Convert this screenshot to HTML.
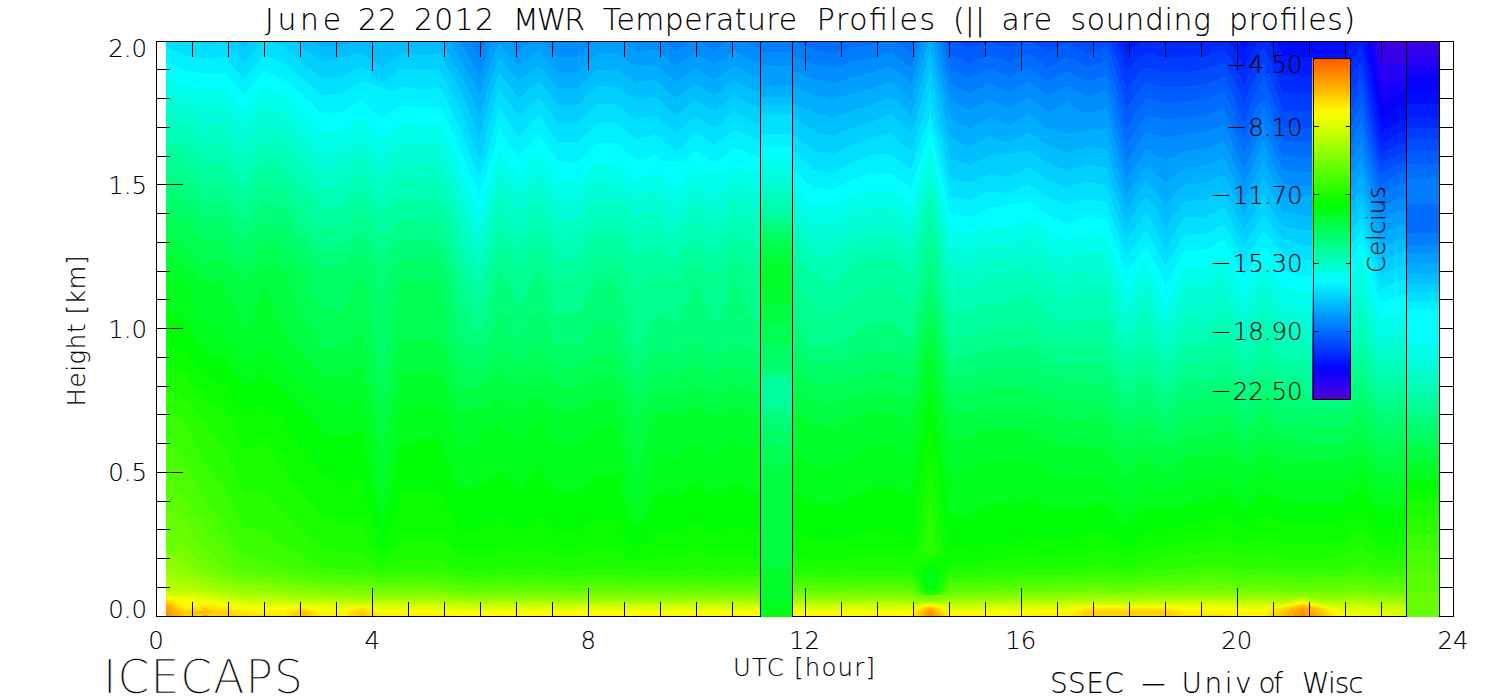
<!DOCTYPE html>
<html><head><meta charset="utf-8"><title>June 22 2012 MWR Temperature Profiles</title>
<style>
html,body{margin:0;padding:0;background:#fff;overflow:hidden;}
svg{display:block;}
text{font-family:"DejaVu Sans Light","DejaVu Sans","Liberation Sans",sans-serif;font-weight:200;fill:#000;stroke:#000;stroke-width:0.12px;}
.t{font-size:29.8px}
.a{font-size:24.4px}
.s{font-size:27.9px}
.i{font-size:45.5px;stroke:#fff;stroke-width:0.55px}
</style></head><body>
<svg xmlns="http://www.w3.org/2000/svg" width="1500" height="700" viewBox="0 0 1500 700">
<defs>
<linearGradient id="cb" x1="0" y1="1" x2="0" y2="0">
<stop offset="0.000" stop-color="#5000c8"/><stop offset="0.025" stop-color="#3c00e1"/><stop offset="0.050" stop-color="#2700f6"/><stop offset="0.075" stop-color="#0e00fc"/><stop offset="0.100" stop-color="#000bff"/><stop offset="0.125" stop-color="#0023ff"/><stop offset="0.150" stop-color="#003cff"/><stop offset="0.175" stop-color="#0054ff"/><stop offset="0.200" stop-color="#006dff"/><stop offset="0.225" stop-color="#0085ff"/><stop offset="0.250" stop-color="#009eff"/><stop offset="0.275" stop-color="#00b6ff"/><stop offset="0.300" stop-color="#00cfff"/><stop offset="0.325" stop-color="#00e7ff"/><stop offset="0.350" stop-color="#00fffe"/><stop offset="0.375" stop-color="#00ffe1"/><stop offset="0.400" stop-color="#00ffc5"/><stop offset="0.425" stop-color="#00ffa8"/><stop offset="0.450" stop-color="#00ff8c"/><stop offset="0.475" stop-color="#00ff70"/><stop offset="0.500" stop-color="#00ff53"/><stop offset="0.525" stop-color="#00ff37"/><stop offset="0.550" stop-color="#00ff1a"/><stop offset="0.575" stop-color="#02ff00"/><stop offset="0.600" stop-color="#1aff00"/><stop offset="0.625" stop-color="#32ff00"/><stop offset="0.650" stop-color="#4aff00"/><stop offset="0.675" stop-color="#61ff00"/><stop offset="0.700" stop-color="#79ff00"/><stop offset="0.725" stop-color="#91ff00"/><stop offset="0.750" stop-color="#a9ff00"/><stop offset="0.775" stop-color="#c1ff00"/><stop offset="0.800" stop-color="#d9ff00"/><stop offset="0.825" stop-color="#f1ff00"/><stop offset="0.850" stop-color="#fff400"/><stop offset="0.875" stop-color="#ffda00"/><stop offset="0.900" stop-color="#ffbf00"/><stop offset="0.925" stop-color="#ffa500"/><stop offset="0.950" stop-color="#ff8a00"/><stop offset="0.975" stop-color="#ff7000"/><stop offset="1.000" stop-color="#ff5500"/>
</linearGradient>
</defs>
<rect width="1500" height="700" fill="#fff"/>
<g shape-rendering="crispEdges" fill-rule="evenodd">
<rect x="166.0" y="41.0" width="1274.0" height="575.0" fill="#4300d9"/>
<path fill="#3500e9" d="M166,41 1380.5,41 1381.2,45 1400.8,50 1440,50 1440,616 166,616Z"/>
<path fill="#2700f6" d="M166,41 1377.2,41 1378.9,51 1380.6,61 1381.2,65 1400.8,64 1440,64 1440,616 166,616Z"/>
<path fill="#1600fa" d="M166,41 1373.9,41 1375.7,51 1377.4,61 1379,71 1380.6,81 1381.2,85 1390.7,81 1400.8,78 1440,78 1440,616 166,616Z"/>
<path fill="#0600fe" d="M166,41 1370.5,41 1372.4,51 1374.2,61 1376,71 1377.6,81 1379.2,91 1380.6,101 1381.2,104.3 1385.9,101 1400.8,92 1440,92 1440,616 166,616Z"/>
<path fill="#000bff" d="M166,41 1367.2,41 1369.2,51 1371.1,61 1372.9,71 1374.6,81 1376.2,91 1377.8,101 1379.5,111 1381.2,119.8 1393.5,111 1400.8,106 1440,106 1440,616 166,616Z"/>
<path fill="#001bff" d="M166,41 1239.1,41 1244,49.2 1248.4,41 1276.3,41 1280.9,51 1283.2,56.5 1342,56.5 1345.7,51 1353,41 1363.8,41 1365.9,51 1367.9,61 1369.8,71 1371.6,81 1373.3,91 1374.9,101 1376.6,111 1378.6,121 1381,131 1381.2,131.9 1382.8,131 1399.2,121 1400.8,119.9 1440,119.9 1440,616 166,616Z"/>
<path fill="#002bff" d="M166,41 1122.4,41 1125.7,51 1126.4,53.2 1128.8,51 1142.8,41 1155.7,41 1165.6,43 1185.2,42.3 1204.8,41.5 1206.5,41 1228.4,41 1235.3,51 1241,61 1244,67.2 1246.9,61 1252.1,51 1257.9,41 1268.3,41 1273.3,51 1277.8,61 1281.9,71 1283.2,74.5 1342,74.5 1344,71 1350.4,61 1357.6,51 1361.6,46 1362.7,51 1364.8,61 1366.7,71 1368.6,81 1370.4,91 1372,101 1373.8,111 1375.7,121 1378,131 1380.6,141 1381.2,142.9 1384.8,141 1400.8,131.9 1440,131.9 1440,616 166,616Z"/>
<path fill="#003cff" d="M166,41 1116.4,41 1120.1,51 1123.4,61 1126.4,71.2 1126.6,71 1135.7,61 1146,52.6 1165.6,57.7 1185.2,57 1204.8,55.5 1218.9,51 1224.4,49.3 1225.6,51 1232.1,61 1237.5,71 1242.2,81 1244,85.2 1245.8,81 1250.4,71 1255.5,61 1261.1,51 1263.6,47 1265.7,51 1270.5,61 1274.9,71 1279,81 1282.7,91 1283.2,92.5 1342,92.5 1342.8,91 1348.3,81 1354.6,71 1361.6,61 1363.7,71 1365.6,81 1367.5,91 1369.2,101 1370.9,111 1372.9,121 1375,131 1377.5,141 1380.5,151 1381.2,153 1385.1,151 1400.8,142.9 1440,142.9 1440,616 166,616Z"/>
<path fill="#004cff" d="M166,41 1110.4,41 1114.4,51 1118,61 1121.1,71 1124.1,81 1126.4,89.4 1132.8,81 1141.6,71 1146,66.6 1160.9,71 1165.6,72.4 1185.2,71.7 1191.8,71 1204.8,69.7 1224.4,62.8 1229.2,71 1234.4,81 1238.9,91 1243,101 1244,103.5 1244.9,101 1249,91 1253.5,81 1258.5,71 1263.6,61.7 1268,71 1272.3,81 1276.3,91 1280,101 1283.2,110.5 1342,110.5 1346.8,101 1352.2,91 1358.3,81 1361.6,76 1362.6,81 1364.5,91 1366.3,101 1368.1,111 1370,121 1372,131 1374.3,141 1377.2,151 1380.5,161 1381.2,163 1400.8,153 1440,153 1440,616 166,616Z"/>
<path fill="#005dff" d="M166,41 954,41 969.6,49.3 989.2,42 1008.8,48 1023.9,41 1031.4,41 1045.7,51 1048,52.7 1051.2,51 1067.6,42.7 1083.2,51 1087.2,53 1093.1,51 1106.8,46.3 1108.8,51 1112.6,61 1115.9,71 1119,81 1121.9,91 1124.6,101 1126.4,108.3 1131.1,101 1138.5,91 1146,82 1165.6,87.2 1185.2,86.6 1204.8,84.3 1213.7,81 1224.4,77 1226.5,81 1231.4,91 1235.8,101 1239.7,111 1243.6,121 1244,121.8 1244.4,121 1248.1,111 1251.9,101 1256.3,91 1261.2,81 1263.6,76.3 1265.7,81 1270,91 1273.9,101 1277.4,111 1280.8,121 1283.2,127.2 1302.8,127.5 1342,127.5 1345.5,121 1350.5,111 1355.8,101 1361.6,91 1363.4,101 1365.2,111 1367.1,121 1369,131 1371.2,141 1373.8,151 1376.9,161 1380.4,171 1381.2,173 1400.8,163 1440,163 1440,616 166,616Z"/>
<path fill="#006dff" d="M166,41 946.9,41 949.3,51 950,54 964.4,61 969.6,63.4 975.1,61 989.2,55.3 1004.6,61 1008.8,62.6 1012.1,61 1028.4,53 1039.6,61 1048,67.2 1059.4,61 1067.6,56.7 1076.1,61 1087.2,66.7 1103.4,61 1106.8,59.8 1107.3,61 1110.7,71 1113.9,81 1116.9,91 1119.6,101 1122.2,111 1124.6,121 1126.4,127.5 1130.5,121 1136.8,111 1143.9,101 1146,98.2 1158,101 1165.6,102.7 1185.2,102 1192.5,101 1204.8,99.4 1224.4,92 1228.5,101 1232.6,111 1236.7,121 1241.2,131 1244,137.2 1246.7,131 1251,121 1254.8,111 1258.8,101 1267.8,101 1271.4,111 1274.9,121 1278.6,131 1283,141 1283.2,141.5 1302.8,142.3 1342,142.3 1342.8,141 1348.7,131 1353.8,121 1359.2,111 1361.6,106.6 1362.4,111 1364.3,121 1366.1,131 1368.1,141 1370.5,151 1373.2,161 1376.5,171 1380.3,181 1381.2,183 1400.8,173 1440,173 1440,616 166,616Z"/>
<path fill="#007dff" d="M166,41 791.5,41 793.2,41.4 812.8,49.4 819.9,51 832.4,53.7 841,51 852,47.4 871.6,44.6 881.8,41 895.9,41 908.7,51 910.8,52.6 911.3,51 914.4,41 943.2,41 945.6,51 948,61 950,69.2 954,71 969.6,78.1 984.3,71 989.2,68.8 994.7,71 1008.8,76.9 1020.5,71 1028.4,67.1 1033.7,71 1047.6,81 1048,81.3 1048.6,81 1067.6,70.7 1068.2,71 1086,81 1087.2,81.7 1089.2,81 1106.8,75 1108.8,81 1112,91 1114.7,101 1117.3,111 1119.7,121 1122.4,131 1125.2,141 1126.4,145.2 1129,141 1135.4,131 1141.8,121 1146,114.9 1165.6,118.9 1185.2,118 1204.8,115.3 1216.8,111 1224.4,108.2 1225.6,111 1229.7,121 1234.1,131 1238.6,141 1243.3,151 1244,152.5 1244.7,151 1249.3,141 1253.6,131 1257.6,121 1261.5,111 1263.6,106 1265.5,111 1269,121 1272.6,131 1276.6,141 1281,151 1283.2,155.5 1302.8,157 1342,157 1345.9,151 1352,141 1357.3,131 1361.6,122.2 1363.1,131 1364.9,141 1367.1,151 1369.6,161 1372.6,171 1376.1,181 1380.3,191 1381.2,193.5 1386.2,191 1400.8,183.6 1440,183.6 1440,616 166,616Z"/>
<path fill="#008eff" d="M166,41 469.9,41 476.1,51 479.6,57 481.9,51 486,41 557,41 558,42 577.6,41.5 578.1,41 664,41 675.6,50.7 691.2,41 698.8,41 714.8,50.7 728.7,41 743,41 754,46.6 773.6,51.3 793.2,56 812.8,64 832.4,68 852,62 856.6,61 871.6,58 891.2,52 902.8,61 910.8,67.3 912.9,61 916,51 919,41 939.5,41 941.8,51 944.2,61 946.6,71 949.3,81 950,83.6 964.8,91 969.6,93.5 974.3,91 989.2,83.5 1006.5,91 1008.8,92 1010.7,91 1028.4,81.7 1041,91 1048,96.2 1057.6,91 1067.6,85.5 1077.3,91 1087.2,96.7 1104.9,91 1106.8,90.4 1107,91 1109.7,101 1112.4,111 1114.8,121 1117.4,131 1120.1,141 1122.9,151 1125.8,161 1126.4,162.7 1127.6,161 1134,151 1140.3,141 1146,131.8 1165.6,137.5 1185.2,134.2 1204.8,131.6 1206.4,131 1224.4,124.8 1227,131 1231.4,141 1236,151 1240.7,161 1244,167.8 1247.4,161 1252,151 1256.3,141 1260.4,131 1263.6,122.5 1266.5,131 1270.2,141 1274.3,151 1278.9,161 1283.2,169.5 1297,171 1302.8,171.7 1342,171.7 1342.5,171 1349.3,161 1355.5,151 1361.1,141 1361.6,140 1361.8,141 1363.7,151 1366,161 1368.6,171 1371.9,181 1375.7,191 1379.3,201 1381.2,206.6 1392.6,201 1400.8,196.9 1440,196.9 1440,616 166,616Z"/>
<path fill="#009eff" d="M166,41 459,41 460,43 465.4,51 471.6,61 477.2,71 479.6,75.6 481.1,71 484.7,61 488.8,51 493.4,41 510,41 518.8,50.7 532.6,41 542.3,41 552.3,51 558,57 577.6,56.5 583.4,51 592.9,41 622.3,41 636,51 636.4,51.3 639.2,51 656,49.3 658.1,51 669.9,61 675.6,66.1 683.1,61 695.2,53.3 708.9,61 714.8,64.4 719.8,61 734.4,51.3 754,61.3 773.6,66 793.2,70.7 794.1,71 812.8,79 822.1,81 832.4,83.3 852,77.3 871.6,72.7 876.3,71 891.2,66.3 897.3,71 908.9,81 910.8,82.7 911.4,81 914.6,71 917.7,61 920.7,51 923.6,41 935.8,41 938.1,51 942.7,71 945.2,81 947.7,91 950,100 951.9,101 969.6,110.7 986.3,101 989.2,99.4 992.8,101 1008.8,108.1 1021.6,101 1028.4,97.3 1033.3,101 1046.6,111 1048,112 1051.5,111 1067.6,101.6 1080.3,111 1087.2,113.5 1097.6,111 1106.8,108.5 1107.5,111 1110,121 1112.5,131 1115,141 1117.7,151 1120.6,161 1123.8,171 1126.4,178.5 1131.6,171 1138.7,161 1145.1,151 1146,149.6 1149.1,151 1165.6,160.4 1184.7,151 1185.2,150.8 1204.8,148.7 1224.4,141.4 1228.6,151 1233.2,161 1238,171 1242.9,181 1244,183.2 1245.2,181 1250.3,171 1255,161 1259.3,151 1263.4,141 1263.6,140.5 1263.8,141 1267.5,151 1271.7,161 1276.4,171 1281.8,181 1283.2,183.5 1302.8,186.3 1342,186.3 1346,181 1353.2,171 1359.5,161 1361.6,157.3 1362.4,161 1364.7,171 1367.6,181 1371.1,191 1374.7,201 1378.1,211 1381.2,220.2 1400.3,211 1400.8,210.8 1440,210.8 1440,616 166,616Z"/>
<path fill="#00aeff" d="M166,41 450.6,41 455.8,51 460,59 461.3,61 467.5,71 473.1,81 477.8,91 479.6,95.2 480.8,91 484,81 487.4,71 491.3,61 495.7,51 499.2,44 505.8,51 514.6,61 518.8,66 525.1,61 538.4,51.3 547.9,61 557.1,71 558,72.1 577.6,71.5 578.2,71 589.3,61 597.2,53 616.8,53.3 627.7,61 636.4,66.8 656,64.2 663.6,71 674.5,81 675.6,82 676.9,81 690.9,71 695.2,68.1 700.3,71 714.8,80 726.8,71 734.4,65.9 744.4,71 754,76 773.6,80.7 774.7,81 793.2,85.6 804.8,91 812.8,95 832.4,100 852,93.6 862.3,91 871.6,88.7 891.2,81.3 902.2,91 910.8,98.7 913.4,91 916.6,81 919.6,71 922.5,61 925.3,51 928.2,41 932.2,41 934.4,51 936.6,61 938.8,71 941.2,81 943.5,91 945.9,101 948.4,111 950,117.2 956.5,121 969.6,128.7 982.5,121 989.2,117 999,121 1008.8,124.9 1016.1,121 1028.4,114.4 1037.2,121 1048,128.8 1058.4,131 1067.6,133.6 1079.6,131 1087.2,129.8 1106.8,128.1 1107.5,131 1109.9,141 1112.5,151 1115.4,161 1118.5,171 1121.8,181 1125.4,191 1126.4,193.7 1128.4,191 1135.4,181 1142.5,171 1146,166.2 1153.3,171 1163.8,181 1165.6,183.4 1167.8,181 1179.7,171 1185.2,167.5 1204.8,165.8 1216.6,161 1224.4,157.9 1225.8,161 1230.4,171 1235.2,181 1240.1,191 1244,198.5 1248.2,191 1253.4,181 1258.1,171 1262.5,161 1263.6,158.5 1264.6,161 1268.9,171 1273.7,181 1279.2,191 1283.2,197.5 1349.6,191 1357.1,181 1361.6,174.4 1363.4,181 1366.5,191 1370.1,201 1373.5,211 1376.9,221 1380.2,231 1381.2,233.9 1387.4,231 1400.8,224.6 1440,224.6 1440,616 166,616Z"/>
<path fill="#00bfff" d="M166,41 314.1,41 322.8,47 342.4,46 355.2,41 366.1,41 396.7,41 442.2,41 447.3,51 452.5,61 458,71 460,74.5 463.9,81 469,91 473.6,101 477.6,111 479.6,116.2 481,111 483.8,101 486.7,91 490.1,81 493.7,71 497.9,61 499.2,58.1 501.8,61 510.2,71 518.5,81 518.8,81.3 519.2,81 531.4,71 538.4,65.5 543.4,71 552.1,81 558,88.1 577.6,87.6 584.9,81 596.1,71 597.2,69.9 616.8,70 618.3,71 633.7,81 636.4,82.8 648.9,81 656,80 657,81 667.8,91 675.6,98.2 684.9,91 695.2,83.4 707.6,91 714.8,95.4 720.3,91 733.1,81 734.4,80.1 736.2,81 754,90.7 755.1,91 773.6,95.8 811.2,111 812.8,112 832.4,117.3 851,111 852,110.7 871.6,105.3 880.6,101 891.2,96.6 896.2,101 906.6,111 910.8,115 912.3,111 915.7,101 918.9,91 921.8,81 924.6,71 927.3,61 930,51 930.4,49.6 930.7,51 932.9,61 934.9,71 937.1,81 939.3,91 941.5,101 943.8,111 946.2,121 948.6,131 950,137.1 957.2,141 969.6,147 980.7,141 989.2,136.1 1002.8,141 1008.8,143 1012.3,141 1028.4,132.2 1040.9,141 1048,145.9 1062.8,151 1067.6,152.7 1073.2,151 1087.2,146.9 1106.8,148.8 1107.4,151 1110.2,161 1113.2,171 1116.4,181 1119.8,191 1123.5,201 1126.4,208.8 1131.9,201 1139.1,191 1146,181.2 1155.6,191 1162.7,201 1165.6,206.1 1169.2,201 1177.7,191 1185.2,184.2 1204.8,182.9 1209.2,181 1224.4,174.5 1227.4,181 1232.3,191 1237.3,201 1242.5,211 1244,213.8 1245.7,211 1251.5,201 1256.7,191 1261.6,181 1263.6,176.5 1265.6,181 1270.6,191 1276.2,201 1282.8,211 1283.2,211.5 1302.8,215.7 1342,215.7 1345.3,211 1352.7,201 1360.8,191 1361.6,189.9 1361.9,191 1365.4,201 1368.9,211 1372.3,221 1375.7,231 1379,241 1381.2,247.5 1395.4,241 1400.8,238.5 1440,238.5 1440,616 166,616Z"/>
<path fill="#00cfff" d="M166,41 237.6,41 244.4,48 250,41 294.5,41 303.2,48.5 321.3,61 322.8,62 362,52.5 374.7,61 381.6,66.3 389.1,61 401.2,53 420.8,55 440.4,54 444,61 449.3,71 454.9,81 460,90.5 460.3,91 465.1,101 469.4,111 473.3,121 476.9,131 479.6,138.5 481.5,131 484.1,121 486.8,111 489.6,101 492.7,91 496.2,81 499.2,73.1 505.6,81 513.4,91 518.8,98.3 526.5,91 538,81 538.4,80.7 538.7,81 547,91 555.1,101 558,104.8 577.6,104.6 581.4,101 592.1,91 597.2,86.3 616.8,86.6 623.3,91 636.4,100.1 656,97 660.3,101 670.4,111 675.6,115.9 681.3,111 693.1,101 695.2,99.4 697.8,101 714.3,111 714.8,111.3 727.4,101 734.4,95.4 744.6,101 754,106.1 772,111 773.6,111.4 793.2,117.3 799.2,121 812.8,130.8 813.4,131 832.4,135.8 843.7,131 852,127.9 871.6,122 874,121 891.2,113 899.2,121 909.1,131 910.8,132.6 911.4,131 915,121 918.5,111 921.5,101 924.4,91 927.1,81 929.6,71 930.4,68 931,71 933,81 935,91 937.1,101 939.2,111 941.5,121 944,131 946.4,141 948.6,151 950,157.9 957.9,161 969.6,165 978.3,161 989.2,155.7 1025.7,151 1028.4,149.5 1048,163.1 1067.6,170.7 1087.2,164.1 1106.8,167.5 1107.8,171 1111,181 1114.3,191 1117.8,201 1121.4,211 1125,221 1126.4,224.7 1129.1,221 1135.9,211 1142.8,201 1146,196.5 1149.8,201 1156.6,211 1162.1,221 1165.6,228.2 1169.7,221 1176.6,211 1185,201 1185.2,200.8 1204.8,200 1224.4,191 1229.2,201 1234.3,211 1239.5,221 1244,229.2 1249.2,221 1255.1,211 1260.4,201 1263.6,194.5 1267,201 1272.8,211 1279.7,221 1283.2,225.5 1302.8,230.3 1342,230.3 1348.3,221 1355.5,211 1361.6,203.2 1364.3,211 1367.8,221 1371.2,231 1374.5,241 1377.9,251 1381.2,261.1 1381.5,261 1400.8,252.4 1440,252.4 1440,616 166,616Z"/>
<path fill="#00dfff" d="M166,41 188.3,41 205.2,44 224.8,43 232.9,51 242.2,61 244.4,63.4 246.5,61 254.6,51 262.4,41 268.9,41 283.6,47 288.1,51 300.1,61 303.2,63.5 314,71 322.8,77.7 342.4,76.7 352.9,71 362,66.6 368,71 379.5,81 381.6,83.1 397.5,71 401.2,68.4 440.4,70.5 440.6,71 445.8,81 451.1,91 456.3,101 460,108.5 461.1,111 465.2,121 469,131 472.7,141 476.6,151 479.6,158.5 481.9,151 484.7,141 487.2,131 489.8,121 492.6,111 495.5,101 498.6,91 499.2,89.3 500.6,91 507.6,101 518.8,117.1 524.3,111 534,101 538.4,96.9 541.7,101 549.4,111 556.9,121 558,122.5 577.6,122.8 579.4,121 589.9,111 597.2,103.9 616.8,104.5 625.7,111 636.4,119.3 656,115.3 661.9,121 673.2,131 675.6,133.2 677.8,131 689.6,121 695.2,116.4 703.4,121 714.8,127.5 723,121 734.4,111.3 752,121 754,122 773.6,128 782.8,131 793.2,134.5 801.6,141 812.8,150.5 814.9,151 832.4,155 840,151 852,145.1 863,141 871.6,138 891.2,132.8 899.1,141 910.2,151 910.8,151.5 911,151 914.2,141 917.9,131 921.7,121 924.7,111 927.3,101 929.9,91 930.4,89 930.8,91 932.8,101 934.6,111 936.7,121 939.4,131 942,141 944.3,151 946.5,161 948.6,171 950,177.8 961.8,181 969.6,182.9 973.8,181 989.2,173.9 1008.8,177 1020.6,171 1028.4,166.7 1048,180.3 1050,181 1067.6,186.9 1087.2,181.3 1106.8,185 1108.7,191 1112.1,201 1115.6,211 1119.1,221 1122.8,231 1126.4,240.7 1133.5,231 1140.6,221 1146,212.5 1151.2,221 1156.8,231 1161.8,241 1165.6,249.3 1169.9,241 1175.7,231 1182.5,221 1185.2,217.5 1204.8,217.2 1217.3,211 1224.4,207.6 1226.1,211 1231.2,221 1236.6,231 1242,241 1244,244.5 1246.3,241 1252.9,231 1259,221 1263.6,212.5 1268.8,221 1276.1,231 1283.2,239.5 1288.7,241 1302.8,245 1342,245 1344.5,241 1351.1,231 1358.2,221 1361.6,216.4 1363.2,221 1366.6,231 1370,241 1373.4,251 1376.6,261 1379.9,271 1381.2,274.8 1389.9,271 1400.8,266.2 1440,266.2 1440,616 166,616Z"/>
<path fill="#00f0ff" d="M166,46.5 185.6,55.5 205.2,58.5 224.8,57.2 228.4,61 237.4,71 244.4,78.7 250.9,71 259.2,61 264,55 283.6,63 303.2,79 305.8,81 318.1,91 322.8,95.2 342.4,93.2 362,81 394.8,91 401.2,86 420.8,89 440.4,88.2 441.9,91 446.9,101 451.8,111 456.7,121 460,128.1 461.1,131 464.9,141 468.8,151 472.7,161 477,171 479.6,176.5 481.5,171 484.7,161 487.7,151 490.4,141 492.9,131 495.6,121 498.4,111 499.2,108.2 501.1,111 507.8,121 514.7,131 518.8,136.7 523.8,131 532.5,121 538.4,114.6 543.1,121 550.2,131 557.3,141 558,142 577.6,142 578.7,141 589.2,131 597.2,123.1 616.8,123.2 626.4,131 636.4,139.1 656,134.2 663.2,141 674.4,151 675.6,152 676.5,151 686.1,141 695.2,132.2 708.7,141 714.8,145 719.8,141 732,131 734.4,129 738.4,131 754,138.1 762.7,141 773.6,144.8 791.2,151 793.2,151.7 803.9,161 812.8,169.5 820.8,171 832.4,173 836,171 852,162.3 855.6,161 871.6,155 891.2,153.7 899.5,161 910.8,170 913.7,161 916.9,151 920.5,141 924.4,131 928.3,121 930.4,112.9 931.9,121 934.7,131 937.5,141 940,151 942.3,161 944.5,171 946.7,181 948.9,191 950,195.9 969.6,200 989.2,191 1008.8,193.2 1013.4,191 1028.4,183.9 1048,197.5 1058.6,201 1067.6,204.3 1078.3,201 1087.2,198.5 1106.8,202.2 1109.8,211 1113.2,221 1116.8,231 1120.5,241 1124.2,251 1126.4,256.7 1145.3,231 1146,229.9 1146.6,231 1152.4,241 1157.5,251 1163,261 1165.6,266.2 1168.5,261 1174.7,251 1180.5,241 1185.2,234 1204.8,234 1224.4,224 1228.1,231 1233.5,241 1239,251 1244,260 1250,251 1256.6,241 1263,231 1263.6,229.9 1264.3,231 1272.1,241 1280.8,251 1283.2,254 1302.8,260 1342,260 1347.2,251 1353.7,241 1360.6,231 1361.6,229.6 1362.1,231 1365.5,241 1368.9,251 1372.1,261 1375.3,271 1378.5,281 1381.2,288.4 1398.8,281 1400.8,280.1 1440,280.1 1440,616 166,616Z"/>
<path fill="#00fffe" d="M166,61.5 185.6,70.5 189.4,71 205.2,73.2 224.8,72.5 232.5,81 241,91 244.4,95 247.7,91 255.8,81 264,71 283.6,79 286,81 298,91 303.2,95.5 309.5,101 319.9,111 322.8,113.8 342.4,111.4 343.1,111 358.9,101 362,99 363.9,101 373.5,111 381.6,119.5 392.6,111 401.2,104.4 420.8,107.4 440.4,106.9 442.4,111 447.4,121 452.2,131 456.7,141 460,148.4 461,151 464.9,161 469,171 473.4,181 478.5,191 479.6,193.3 480.3,191 484,181 487.5,171 490.6,161 493.6,151 496.2,141 498.6,131 499.2,128.9 500.6,131 507.1,141 514.3,151 518.8,156.6 523.6,151 532.2,141 538.4,134 543.4,141 550.6,151 557.8,161 558,161.3 577.6,161.9 578.6,161 589,151 597.2,143.2 616.8,143.4 626.1,151 636.4,160 656,154.8 663.4,161 684.4,161 694.2,151 695.2,149.9 696.8,151 711.9,161 714.8,163 734.4,147 743.9,151 754,155.1 773.6,162.1 793.2,168.9 795.5,171 805.9,181 812.8,187.5 832.4,190 849.3,181 852,179.5 871.6,172.5 891.2,173 901.6,181 910.8,187.5 913,181 916.2,171 919.6,161 922.9,151 926.7,141 930.4,132 933.1,141 935.8,151 938.1,161 940.4,171 942.7,181 944.9,191 947.2,201 950,213 969.6,216.9 982.7,211 989.2,208 1028.4,201.1 1048,214.7 1061.9,221 1067.6,223.7 1074,221 1087.2,215.7 1106.8,219.4 1107.3,221 1110.8,231 1114.4,241 1118.1,251 1121.8,261 1125.7,271 1126.4,272.9 1127.6,271 1146,246 1154.2,261 1159.3,271 1163.6,281 1165.6,285.8 1168,281 1172.8,271 1178.4,261 1185.2,250 1204.8,250 1224.4,240 1224.9,241 1230.4,251 1235.8,261 1241.3,271 1244,276.2 1247.3,271 1253.8,261 1260.4,251 1263.6,246 1275.9,261 1283.2,270.1 1286.2,271 1302.8,276.2 1322.4,276.3 1342,276.4 1344.7,271 1350.2,261 1356.1,251 1361.6,242.8 1364.4,251 1367.6,261 1370.6,271 1373.5,281 1376.8,291 1380.8,301 1381.2,302.3 1400.8,294.7 1440,294.7 1440,616 166,616Z"/>
<path fill="#00ffeb" d="M166,76.5 185.6,85.5 205.2,89.2 224.8,88.3 227.1,91 235.1,101 243.9,111 244.4,111.5 244.9,111 253.5,101 261.4,91 264,87.7 272.1,91 283.6,95.8 289.6,101 300.7,111 303.2,113.3 311.1,121 321.4,131 322.8,132.4 334.5,131 342.4,130.1 356.5,121 362,117.5 365.3,121 374.8,131 381.6,138.2 390.8,131 401.2,122.9 420.8,126 440.4,125.6 443,131 447.8,141 452.3,151 456.7,161 460,168.8 460.9,171 465.1,181 469.7,191 474.2,201 479.2,211 479.6,211.9 479.9,211 483.2,201 486.3,191 489.9,181 493.5,171 496.5,161 499.2,151.9 506.4,161 514.6,171 518.8,175.5 523.1,171 531.8,161 538.4,153.3 543.9,161 551.2,171 558,180.1 577.6,180 587.6,171 597.2,162.5 616.8,162.9 626.5,171 636.4,179.8 656,173.8 665.8,181 675.6,188.1 682.4,181 691.6,171 695.2,167.1 700.8,171 726.8,171 734.4,164.9 749.3,171 754,172.9 793.2,186.1 798.4,191 808.8,201 812.8,205 832.4,206.3 843.6,201 852,196.7 868.8,191 871.6,190 886.7,191 891.2,191.3 905.1,201 910.8,205 912.1,201 915.3,191 918.7,181 922,171 925.4,161 928.8,151 930.4,147.1 931.5,151 934,161 936.3,171 938.7,181 943.3,201 945.6,211 947.8,221 950,230 956.3,231 969.6,233.1 974.7,231 989.2,225 1008.8,228 1023,221 1028.4,218.3 1048,231.9 1067.6,241.2 1087.2,232.9 1106.8,236.6 1108.3,241 1111.9,251 1115.6,261 1119.4,271 1122.8,281 1126.4,291 1132.7,281 1139.4,271 1146,262 1150.8,271 1155.4,281 1159.4,291 1163.6,301 1165.6,305.1 1168,301 1172.9,291 1177.8,281 1182.7,271 1185.2,266.6 1204.8,266.5 1214.6,261 1224.4,256 1232.6,271 1237.5,281 1242.6,291 1244,293.4 1245.6,291 1251.5,281 1257.7,271 1263.6,262 1270.9,271 1278.2,281 1283.2,288 1293.4,291 1302.8,293.7 1322.4,294.3 1342,294.9 1344.1,291 1348.9,281 1353.4,271 1358.9,261 1361.6,256.5 1363,261 1366,271 1368.4,281 1371.3,291 1374.7,301 1378,311 1381.2,319.8 1400.8,313.3 1440,313.3 1440,616 166,616Z"/>
<path fill="#00ffd8" d="M166,91.6 185.6,100.4 187.8,101 205.2,107.4 224.8,106.4 228.6,111 237.9,121 244.4,127.7 250.7,121 259.9,111 264,105.9 276.4,111 283.6,114 291.3,121 302.2,131 303.2,131.9 312.4,141 322.6,151 322.8,151.2 324.7,151 342.4,148.9 354.5,141 362,136.2 366.5,141 375.9,151 381.6,157.1 389.3,151 401.2,141.6 420.8,144.7 440.4,144.3 443.5,151 448,161 452.4,171 456.7,181 460,189.1 460.8,191 465.3,201 470,211 474.9,221 479.6,230 482.7,221 486.1,211 489.3,201 492.3,191 495.9,181 499.2,171.8 508,181 517.8,191 518.8,192.2 519.8,191 529.8,181 538.4,172.4 545.5,181 552.4,191 558,200.3 577.6,198.2 585.2,191 596.1,181 597.2,180 629.3,191 636.4,196.4 656,191 675.6,206 680.1,201 689.4,191 695.2,184.9 704.2,191 714.8,198.1 723.4,191 734.4,182 754,190.1 756.8,191 773.6,196.8 786.2,201 793.2,203.3 801.1,211 811.7,221 812.8,222 832.4,224.7 838.3,221 852,213.9 861.9,211 871.6,208 891.2,208.7 894.6,211 908.7,221 910.8,222.5 911.3,221 914.5,211 917.7,201 921,191 924.4,181 927.8,171 930.4,163.3 932.3,171 934.6,181 937,191 939.3,201 941.6,211 943.8,221 946.1,231 948.5,241 950,247 969.6,249.9 989.2,242 1008.8,245 1017.1,241 1028.4,235.5 1048,249.1 1067.6,258.4 1087.2,250.1 1106.8,253.8 1109.4,261 1113.1,271 1116.1,281 1119.4,291 1123,301 1126.4,309.3 1132.2,301 1138.6,291 1144.4,281 1146,278.6 1147.2,281 1151.1,291 1155.1,301 1159.8,311 1165.1,321 1165.6,322 1166.2,321 1172.3,311 1177.8,301 1182.8,291 1185.2,286 1204.8,285.9 1212,281 1224.4,272.3 1228.3,281 1233,291 1238.2,301 1244,310.9 1250.7,301 1256.7,291 1262.1,281 1263.6,278.5 1265.4,281 1272,291 1279.2,301 1283.2,306.1 1301.6,311 1302.8,311.3 1322.4,312.5 1342,313.8 1343.7,311 1349.2,301 1354,291 1358.2,281 1361.6,272.5 1363.4,281 1365.8,291 1368.7,301 1371.7,311 1374.9,321 1378.6,331 1381.2,337.4 1400.8,332.5 1440,332.5 1440,616 166,616Z"/>
<path fill="#00ffc5" d="M166,107 175.5,111 185.6,115.2 197.1,121 205.2,126 224.8,125 230.4,131 238.9,141 244.4,147.9 249.8,141 258.1,131 264,124.5 279.8,131 283.6,132.6 292.7,141 303.2,150.7 303.5,151 313.5,161 322.8,170.3 342.4,167.9 352.9,161 362,155.1 367.5,161 376.8,171 381.6,176.2 388.1,171 400.6,161 401.2,160.6 404,161 420.8,163.7 440.4,163.3 443.9,171 448.2,181 452.5,191 456.6,201 460,209.4 460.7,211 465.4,221 470.4,231 475.7,241 479.6,248 482.1,241 485.6,231 489,221 492.2,211 495.3,201 498.3,191 499.2,188.5 501.6,191 509.7,201 518.8,212.3 527.9,201 536,191 538.4,188.6 540.2,191 558,220.6 577.6,217.9 584.5,211 594.3,201 597.2,198.2 616.8,199.2 619.1,201 631.3,211 636.4,214.9 649.5,211 656,209.1 671.5,221 675.6,223.8 678.3,221 687.2,211 695.2,202.1 707.8,211 714.8,216 732.1,201 734.4,199.1 738.8,201 754,208 763.1,211 773.6,214.4 793.2,220.5 793.7,221 804.6,231 812.8,238.6 822.3,241 832.4,243.5 836.4,241 852,231.1 852.3,231 871.6,225.5 891.2,225.5 910.8,239.5 913.8,231 917.1,221 920.1,211 923.3,201 926.7,191 930.4,180 930.6,181 933,191 935.4,201 937.7,211 939.7,221 941.9,231 944.2,241 946.6,251 949.2,261 950,264.8 969.6,267 983.9,261 989.2,259 1002.2,261 1008.8,262 1010.9,261 1028.4,252.7 1040.4,261 1048,267.2 1056.2,271 1067.6,276.4 1080.3,271 1087.2,268.2 1109.4,281 1112.3,291 1115.6,301 1119.3,311 1123.4,321 1126.4,327.6 1131.5,321 1138.6,311 1145,301 1146,299.3 1146.7,301 1150.9,311 1155.6,321 1160.9,331 1165.6,338.8 1170.9,331 1177.1,321 1182.6,311 1185.2,306 1204.8,305.7 1212.6,301 1224.4,293.3 1228,301 1233.3,311 1239.2,321 1244,328.3 1249.6,321 1256.4,311 1262.4,301 1263.6,298.9 1265,301 1272.3,311 1280.4,321 1283.2,324.1 1302.8,329 1322.4,330.8 1324.5,331 1342,332.7 1343.2,331 1349.6,321 1355,311 1359.8,301 1361.6,296.7 1362.6,301 1365.3,311 1368.2,321 1371.5,331 1375.2,341 1380.5,351 1381.2,352.3 1388.5,351 1400.8,348.8 1440,348.8 1440,616 166,616Z"/>
<path fill="#00ffb2" d="M166,123.3 185.6,131.3 200.2,141 205.2,144.7 224.8,143.7 230.9,151 239,161 244.4,167.8 249.7,161 257.6,151 264,143.2 282.6,151 283.6,151.4 293.9,161 303.2,169.7 304.5,171 314.4,181 322.8,189.5 342.4,187 351.5,181 362,174.1 368.4,181 377.5,191 381.6,195.4 387.1,191 399.5,181 401.2,179.7 409.5,181 420.8,182.8 440.4,182.4 444.1,191 448.3,201 452.5,211 456.5,221 460,229.7 460.6,231 465.6,241 470.9,251 476.6,261 479.6,266.1 481.5,261 485.2,251 488.7,241 492,231 495.3,221 498.4,211 499.2,208.3 518.8,232.6 538.4,208.3 558,240.9 577.6,237.2 583.6,231 594,221 597.2,217.8 616.8,218.8 619.6,221 633.6,231 636.4,233.2 644.8,231 656,228.1 660.1,231 675.6,240.2 685,231 694.3,221 695.2,220 710.6,231 714.8,234.3 718.1,231 729.6,221 734.4,216.9 743.4,221 754,226.3 769.2,231 773.6,232.3 793.2,237.7 812.8,255.8 832.4,260 847.7,251 852,248.3 871.6,242.5 891.2,242 903.8,251 910.8,256 912.9,251 916.6,241 919.9,231 922.9,221 925.7,211 928.9,201 930.4,196.7 931.4,201 933.7,211 935.7,221 937.7,231 939.9,241 942.1,251 944.4,261 946.5,271 948.5,281 950,288.5 969.6,289.9 982.5,281 989.2,277.1 1008.8,279.7 1026.8,271 1028.4,270.3 1029.4,271 1038.4,281 1048,290.8 1048.5,291 1067.6,299.6 1087.2,292.8 1106.8,296.3 1108.2,301 1111.4,311 1115,321 1119.1,331 1123.9,341 1126.4,345.4 1130.6,341 1138.7,331 1145.8,321 1146,320.7 1146.1,321 1150.9,331 1156.3,341 1163.2,351 1165.6,354.3 1168.4,351 1176.1,341 1182.4,331 1185.2,326.1 1204.8,325.6 1213.4,321 1224.4,314.7 1227.8,321 1233.7,331 1240.5,341 1244,345.5 1248.1,341 1256,331 1262.8,321 1263.6,319.7 1264.6,321 1272.7,331 1282.1,341 1283.2,342 1302.8,346 1322.4,347.8 1342,349.6 1349.9,341 1356.5,331 1361.6,321.4 1364.4,331 1367.7,341 1372.6,351 1378,361 1381.2,366.5 1400.8,363.1 1440,363.1 1440,616 166,616Z"/>
<path fill="#00ff9f" d="M166,140 185.6,148 189.8,151 202.2,161 205.2,163.7 224.8,162.6 231.5,171 240,181 244.4,186 248.7,181 257,171 264,162.1 283.6,170.4 284.2,171 294.8,181 303.2,188.9 305.2,191 315.1,201 322.8,208.9 342.4,206.4 350.5,201 362,193.3 369,201 378.1,211 381.6,214.9 386.4,211 398.7,201 401.2,199 413.8,201 420.8,202.1 440.4,201.7 444.3,211 448.4,221 452.5,231 456.5,241 460,250 460.5,251 465.8,261 471.4,271 476.5,281 479.6,286.3 481.5,281 484.8,271 488.3,261 491.8,251 495.2,241 498.4,231 499.2,228.6 518.8,252.9 538.4,228.6 558,261.2 577.6,257.3 592.6,241 597.2,236.3 616.8,237.3 621.6,241 631.6,251 636.4,256.7 648.7,251 656,248.3 675.6,260.3 692.6,241 695.2,238.2 698.8,241 714.8,254.3 727.6,241 734.4,234.4 745.6,241 754,246.3 773.6,251 773.8,251 793.2,254.9 810.6,271 812.8,274.4 826,281 832.4,284.5 836.2,281 846.6,271 852,267.3 865.3,261 871.6,259 891.2,258.5 894.7,261 904.8,271 910.8,279.4 912.9,271 915.9,261 919.5,251 922.9,241 925.9,231 928.7,221 930.4,214.4 931.6,221 933.5,231 935.6,241 937.7,251 939.7,261 941.6,271 943.5,281 945.6,291 947.7,301 949.6,311 950,313 969.6,313.7 974.1,311 989.2,301.3 1008.8,303.9 1016.7,301 1028.4,296.4 1032.9,301 1043.3,311 1048,315.3 1061.5,321 1067.6,323.5 1077.5,321 1087.2,318.3 1102.7,321 1106.8,321.7 1110.1,331 1114.3,341 1119.8,351 1125.7,361 1126.4,362.1 1127.6,361 1137.5,351 1146,341.7 1151.8,351 1158.8,361 1165.6,369.6 1173.4,361 1181.3,351 1185.2,345.5 1204.8,345 1214.2,341 1224.4,336 1227.5,341 1235,351 1243.1,361 1244,362 1245,361 1254.4,351 1263.2,341 1263.6,340.5 1264.1,341 1274.7,351 1283.2,358.5 1296.8,361 1302.8,362.1 1322.4,363.6 1342,365.1 1346.1,361 1355.5,351 1361.6,344.2 1364.8,351 1369.8,361 1375.3,371 1381.2,380.8 1400.8,377.4 1440,377.4 1440,616 166,616Z"/>
<path fill="#00ff8c" d="M166,156.7 176.5,161 185.6,164.8 192.8,171 203.3,181 205.2,182.8 224.8,181.8 232.6,191 241.6,201 244.4,204 247.1,201 255.9,191 264,181.2 283.6,189.7 285,191 295.5,201 303.2,208.3 305.8,211 315.6,221 322.8,228.5 342.4,226 349.8,221 362,212.8 369.4,221 378.4,231 381.6,234.6 385.9,231 398.1,221 401.2,218.5 416.8,221 420.8,221.7 440.4,221.2 444.4,231 448.4,241 452.4,251 456.4,261 460,270.5 460.2,271 464,281 468.6,291 474.4,301 479.6,308.2 482.7,301 486.2,291 489.2,281 491.8,271 495.1,261 498.5,251 499.2,248.9 509,261 517,271 518.8,274.2 520.6,271 528.6,261 538.4,248.9 545.7,261 551.5,271 557.6,281 558,281.8 562,281 577.6,278.7 583.7,271 597.2,256.3 616.8,257.3 620.3,261 628.7,271 632.9,281 635,291 636.4,297.8 639.6,291 645.4,281 653.9,271 656,269.8 658,271 675.6,280.8 684,271 695.2,258.3 710.5,271 714.8,276.9 718.3,271 734.4,254.3 745.1,261 754,268.7 773.6,270.8 776.1,271 793.2,273.5 797.1,281 802.1,291 807.7,301 812.8,309 817.1,311 832.4,317.6 840.5,311 851.9,301 852,300.9 864.9,291 871.6,285.6 891.2,285.1 895.2,291 902.9,301 910.8,310.1 912.8,301 915.2,291 918.1,281 920.6,271 923.3,261 926.2,251 929.2,241 930.4,236.7 931.2,241 933.2,251 934.9,261 936.7,271 938.5,281 940.7,291 942.9,301 945,311 947,321 948.9,331 950,337.3 969.6,337.4 981.3,331 989.2,326.4 1008.8,328.6 1028.4,322.9 1037.4,331 1048,339.5 1051.8,341 1067.6,345.9 1087.2,342.9 1106.8,345.3 1109.7,351 1115.3,361 1121.3,371 1126.4,378.9 1135,371 1145,361 1146,360 1146.7,361 1153.8,371 1162,381 1165.6,385 1169.7,381 1179.1,371 1185.2,363.6 1204.8,363.1 1210.1,361 1224.4,355.1 1228.9,361 1237.2,371 1244,378.6 1251.7,371 1261.2,361 1263.6,358.4 1266.5,361 1278.2,371 1283.2,374.9 1302.8,378.2 1322.4,379.4 1342,380.7 1352,371 1361.5,361 1361.6,361 1366.8,371 1372.4,381 1378.5,391 1381.2,395 1400.8,391.8 1440,391.8 1440,616 166,616Z"/>
<path fill="#00ff79" d="M166,175.3 179.9,181 185.6,183.4 193.6,191 204,201 205.2,202.1 224.8,201.1 233.7,211 243.4,221 244.4,222.1 245.4,221 254.8,211 263.6,201 264,200.5 265,201 283.6,209.1 285.6,211 296,221 303.2,227.9 306.2,231 315.8,241 322.8,248.2 342.4,245.7 349.3,241 362,232.4 369.6,241 376.8,251 381.6,258.9 387.8,251 397.8,241 401.2,238.1 418.5,241 420.8,241.4 440.4,241 444.4,251 448.4,261 452.3,271 455,281 457,291 459.3,301 460,304 463.8,311 470.7,321 479.6,330.4 484.5,321 488.6,311 492,301 494.7,291 497,281 498.9,271 499.2,270 499.9,271 504.5,281 509.6,291 515.2,301 518.8,307 522.5,301 528.1,291 533.1,281 537.7,271 538.4,270 538.9,271 542.7,281 546.7,291 551.1,301 556,311 558,314.8 577.6,313.1 579,311 585.2,301 590.6,291 595.3,281 597.2,278.4 616.8,279.2 617.9,281 620.8,291 623.4,301 625.8,311 628.1,321 630.2,331 632.4,341 636.4,349.8 643.3,341 647.7,331 652.3,321 656,314 667.5,321 675.6,325.9 678.4,321 683.3,311 687.6,301 691.3,291 694.5,281 695.2,280.1 696,281 699.5,291 703.3,301 707.3,311 711.7,321 714.8,327.6 718.1,321 722.5,311 726.3,301 729.7,291 732.7,281 734.4,277.7 736.5,281 740.1,291 744.2,301 749.1,311 754,319.7 773.6,318.6 793.2,317.6 795.2,321 801.7,331 810.1,341 812.8,342.7 832.4,346.2 844.8,341 852,335.9 859.9,331 871.6,322.8 891.2,321.4 900,331 910.8,340.4 912.5,331 914.6,321 916.9,311 919.5,301 922.4,291 925.7,281 928.3,271 930.4,262.5 931.7,271 933.5,281 935.9,291 938.2,301 940.3,311 942.4,321 944.6,331 946.5,341 948.8,351 950,356.6 969.6,356.6 983.6,351 989.2,348.7 1008.8,350.3 1028.4,346.9 1035,351 1048,358.8 1055.4,361 1067.6,364.6 1087.2,362.1 1106.8,364.6 1110.4,371 1116.5,381 1123.1,391 1126.4,395.7 1132,391 1143.1,381 1146,378.2 1148.1,381 1156.5,391 1165.6,400.4 1176.2,391 1185.2,381.7 1204.8,381.2 1205.4,381 1224.4,373.6 1230.6,381 1239.8,391 1244,395.2 1248.6,391 1259,381 1263.6,376.2 1269.4,381 1282.6,391 1283.2,391.4 1302.8,394.2 1322.4,395.2 1342,396.2 1347.8,391 1358.3,381 1361.6,377.7 1363.4,381 1369.1,391 1375.4,401 1381.2,409.2 1400.8,406.1 1440,406.1 1440,616 166,616Z"/>
<path fill="#00ff66" d="M166,194.6 181.5,201 185.6,202.7 194.2,211 204.5,221 205.2,221.7 217.3,221 224.8,220.6 234.5,231 243.7,241 244.4,241.7 245.1,241 254.1,231 263.1,221 264,220.1 266.2,221 283.6,228.6 286,231 296.3,241 303.2,247.7 306.4,251 315.9,261 322.8,269.4 342.4,267.6 349.2,261 362,252.2 368.3,261 374.4,271 377,281 378.5,291 379.8,301 380.9,311 381.6,317.3 382.3,311 383.6,301 385,291 386.5,281 390.5,271 398.5,261 401.2,258 419.1,261 420.8,261.3 440.4,260.9 444.4,271 447.7,281 449.4,291 451.2,301 453.2,311 455.5,321 458.1,331 460,337.5 463.4,341 479.6,350.9 487.5,341 492.4,331 496.1,321 499,311 499.2,310.1 499.7,311 505.3,321 511.7,331 518.8,340.3 526.1,331 532.5,321 538.2,311 538.4,310.6 538.6,311 543,321 548,331 553.9,341 558,345.3 577.6,345.2 583.8,341 591.8,331 597.2,322.4 616.8,326 618.1,331 620.7,341 625.6,351 630.2,361 634.5,371 636.4,375.6 639.3,371 646.1,361 654.1,351 656,348.9 663.8,351 675.6,354.1 680.4,351 695,341 695.2,340.7 695.3,341 708.6,351 714.8,355.4 721.8,351 734.4,342.7 750.7,351 754,352.6 773.6,351.5 783,351 793.2,350.4 794.1,351 810.6,361 812.8,362.2 832.4,365.5 844.1,361 852,357.8 871.6,351 891.2,350 893,351 910.8,360.3 913.1,351 915.7,341 918,331 920.6,321 923.2,311 926.2,301 929.5,291 930.4,288.6 931,291 933.4,301 935.7,311 937.9,321 940.3,331 942.4,341 944.7,351 946.9,361 949,371 950,375.1 969.6,375.1 980.7,371 989.2,367.8 1008.8,369.4 1028.4,366.5 1036.1,371 1048,377.7 1059.3,381 1067.6,383.4 1087.2,381.4 1106.8,383.8 1111.2,391 1117.9,401 1125.2,411 1126.4,412.5 1128.4,411 1140.8,401 1146,396.5 1150,401 1160,411 1165.6,416 1172.3,411 1183.9,401 1185.2,399.8 1204.8,399.4 1224.4,392.1 1232.7,401 1243.2,411 1244,411.8 1244.9,411 1256.3,401 1263.6,394.1 1273,401 1283.2,407.9 1302.8,410.3 1342,411.8 1342.9,411 1354.5,401 1361.6,394.4 1365.5,401 1372,411 1379.2,421 1381.2,423.9 1397.8,421 1400.8,420.5 1440,420.5 1440,616 166,616Z"/>
<path fill="#00ff53" d="M166,214 182.7,221 185.6,222.2 194.6,231 204.8,241 205.2,241.4 212,241 224.8,240.3 225.5,241 234.6,251 243.8,261 244.4,261.6 245,261 253.9,251 262.9,241 264,239.8 266.8,241 283.6,248.4 286.2,251 296.4,261 303.2,269.3 304.5,271 308.8,281 313.4,291 318.3,301 322.8,309.4 342.4,309.3 347.7,301 353.3,291 358.2,281 362,273.8 364,281 366.1,291 368,301 369.7,311 371.3,321 372.7,331 374.1,341 376.6,351 378.7,361 380.7,371 381.6,375.4 382.5,371 384.7,361 387.1,351 389.8,341 391.4,331 392.9,321 394.6,311 396.4,301 398.3,291 400.5,281 401.2,279.8 415.1,281 420.8,282.1 440,281 440.4,281 441.7,291 443.1,301 444.6,311 446.4,321 448.4,331 450.8,341 454.8,351 459.3,361 460,362.5 479.6,369.9 488.3,361 496.2,351 499.2,346.6 504.1,351 516,361 518.8,363.2 521.5,361 533.6,351 538.4,346.9 542.2,351 551.9,361 558,366.8 577.6,366.7 586.6,361 597.2,353.9 616.8,355.8 619.3,361 624,371 628.3,381 633,391 636.4,398.2 641.2,391 648.1,381 655.1,371 656,369.8 660.8,371 675.6,374.5 681.5,371 695.2,362.3 707.7,371 714.8,375.6 722.7,371 734.4,363.8 749.7,371 754,373 773.6,372 793.2,371 811.2,381 812.8,381.8 832.4,384.8 843.1,381 852,377.7 871.6,371.5 891.2,370.5 892.1,371 910.8,380 913.2,371 915.6,361 918,351 920.7,341 923.4,331 926.5,321 929.5,311 930.4,308.2 931.1,311 933.4,321 936,331 938.3,341 940.7,351 942.7,361 944.7,371 946.9,381 949.3,391 950,393.6 969.6,393.5 977.1,391 989.2,386.8 1008.8,388.4 1028.4,386.1 1037.4,391 1048,396.6 1063.5,401 1067.6,402.1 1082.1,401 1087.2,400.6 1106.8,403.1 1112.2,411 1119.5,421 1125.9,431 1126.4,431.7 1127.2,431 1138.2,421 1146,414.8 1152.5,421 1163.5,431 1165.6,432.7 1168.1,431 1181.3,421 1185.2,417.9 1204.8,417.5 1223.4,411 1224.4,410.6 1224.8,411 1235.3,421 1244,428.7 1253.2,421 1263.6,412 1277.6,421 1283.2,424.4 1302.8,426.4 1322.4,427.1 1342,427.7 1350.1,421 1361.6,411.1 1368.1,421 1374.8,431 1381.2,440 1400.8,436.8 1440,436.8 1440,616 166,616Z"/>
<path fill="#00ff40" d="M166,233.6 183.4,241 185.6,241.9 194.8,251 204.9,261 205.2,261.3 210.4,261 224.8,260.2 225.5,261 234.6,271 243.7,281 244.4,282.6 245.1,281 253.9,271 262.8,261 264,259.7 267,261 283.6,269.9 284.5,271 288.1,281 291.9,291 296.1,301 300.7,311 303.2,316.2 305.6,321 310.8,331 317,341 322.8,347 342.4,348.3 352.8,341 360.5,331 362,328.6 362.4,331 364.3,341 367.2,351 369.9,361 372.3,371 374.5,381 377.2,391 379.8,401 381.6,407.6 383.6,401 386.5,391 389.4,381 391.9,371 394.5,361 397.4,351 400.6,341 401.2,338 420.8,340.6 440.4,340.8 440.4,341 444,351 448,361 452.3,371 457.1,381 460,386.7 479.6,389 489.7,381 499.2,371.3 511.9,381 518.8,385.8 525.2,381 537.9,371 538.4,370.6 538.8,371 549.4,381 558,388.4 577.6,388.2 589.9,381 597.2,376.5 616.8,378.2 618.1,381 622.7,391 627.4,401 632.1,411 636.4,420.5 642.3,411 648.9,401 655.8,391 656,390.8 657.1,391 675.6,394.9 682.7,391 695.2,383.8 706.7,391 714.8,395.8 723.8,391 734.4,385 748.4,391 754,393.3 773.6,392.4 793.2,391.5 812,401 812.8,401.4 832.4,404.1 842,401 852,397.6 871.6,392 891.2,391.1 910.8,399.7 913.4,391 916,381 918.4,371 920.5,361 922.8,351 925.8,341 928.8,331 930.4,326.4 931.7,331 934.2,341 936.7,351 938.6,361 940.4,371 942.3,381 944.5,391 946.9,401 949.7,411 950,412.1 969.6,412.1 972.9,411 989.2,405.9 1008.8,407.5 1028.4,405.7 1038.8,411 1048,415.7 1067,421 1067.6,421.2 1070.7,421 1087.2,420.1 1094.6,421 1106.8,423 1111.5,431 1117.9,441 1124.9,451 1126.4,453 1128.6,451 1139.8,441 1146,435.3 1152.6,441 1165.6,449.9 1179.9,441 1185.2,437.3 1204.8,436.3 1219.6,431 1224.4,429.3 1226.3,431 1237.8,441 1244,446 1250.2,441 1262.2,431 1263.6,429.8 1265.5,431 1282.9,441 1283.2,441.2 1302.8,442.8 1322.4,443.5 1342,444.2 1346.1,441 1358.4,431 1361.6,428.2 1363.4,431 1370.2,441 1377.4,451 1381.2,456.1 1400.8,453.1 1440,453.1 1440,616 166,616Z"/>
<path fill="#00ff2d" d="M166,253.5 183.6,261 185.6,261.9 194.8,271 204.8,281 205.2,281.8 216.5,281 224.8,280.7 225.1,281 229,291 233.1,301 237.2,311 241.3,321 244.4,328.4 248.6,321 253.4,311 257.3,301 260.7,291 263.7,281 264,280.6 264.4,281 268,291 271.9,301 276.1,311 280.7,321 283.6,327 285.3,331 290.5,341 300,351 303.2,354.3 309.8,361 319.8,371 322.8,373.9 342.4,376.2 351.7,371 362,364.6 363.8,371 366.3,381 369,391 371.7,401 374.3,411 376.9,421 381.6,447.9 383,441 384.9,431 386.9,421 389.7,411 392.6,401 395.5,391 398.4,381 401.2,371 420.8,371.6 437.9,371 440.4,370.9 444.6,381 449.2,391 454.3,401 460,410.9 479.6,408 492.3,401 499.2,396 506.6,401 518.8,408.5 529.3,401 538.4,394.3 546.4,401 558,410 577.6,409.7 593.8,401 597.2,399 616.8,400.5 621.7,411 626.1,421 628.2,431 630.2,441 632.2,451 634.2,461 636.4,470.8 639.2,461 641.8,451 644.5,441 647.3,431 650.1,421 656,411.7 675.6,415.6 684.3,411 695.2,405.2 705.4,411 714.8,416.3 725,411 734.4,406.2 746.8,411 754,413.9 773.6,413 793.2,412.1 811.6,421 812.8,422.1 832.4,427.2 842.4,421 852,417.9 871.6,412.5 891.2,411.6 910.8,419.8 913.6,411 916.6,401 919.2,391 921.5,381 923.6,371 925.5,361 927.7,351 930.4,342.3 932.6,351 934.5,361 936,371 937.8,381 939.7,391 941.8,401 944.2,411 946.9,421 948.7,431 950,438 969.6,437.4 982.9,431 989.2,427.9 1008.8,430.2 1028.4,427.8 1032.9,431 1048,441 1048.1,441 1067.6,447.4 1087.2,445.5 1106.8,447.6 1109,451 1115.8,461 1122,471 1126.4,477.5 1132.5,471 1141.6,461 1146,457 1152.6,461 1165.6,468.8 1178.2,461 1185.2,456.9 1204.8,455.2 1216.3,451 1224.4,448.1 1227.9,451 1240.4,461 1244,464.4 1247.3,461 1263.6,447.6 1269.7,451 1283.2,458.1 1302.8,459.3 1322.4,460.1 1342,460.9 1355,451 1361.6,445.7 1365.3,451 1372.4,461 1379.1,471 1381.2,474 1398.9,471 1400.8,470.7 1440,470.7 1440,616 166,616Z"/>
<path fill="#00ff1a" d="M166,274.8 181.9,281 185.6,282.8 190.1,291 195.1,301 200.1,311 205.2,321 205.3,321 224.8,328.6 225.8,331 230.3,341 237.9,351 244.4,359.7 256.1,351 264,344.3 271.1,351 281.9,361 283.6,362.6 291.8,371 302,381 312.3,391 322.8,400.8 324,401 342.4,404.1 349.9,401 362,395.4 363.5,401 366.1,411 368.7,421 377.4,471 379.3,481 381.6,488.5 384.2,481 386.4,471 388.3,461 390.3,451 392.2,441 394.1,431 396,421 398.8,411 401.2,402.8 420.8,402.4 439.6,401 440.4,400.9 445.3,411 450.6,421 454,431 457.6,441 460,447.4 474,441 479.6,438.2 488.1,431 499.2,421.5 507.4,431 516.5,441 518.8,443.5 520.7,441 528.1,431 534.8,421 538.4,418.4 541.7,421 547.9,431 554.4,441 558,446.4 577.6,445.6 582,441 591,431 597.2,423.8 616.8,426.5 619.7,441 621.7,451 623.8,461 626,471 628.3,481 631.8,491 635.9,501 636.4,502 637,501 642.2,491 646.4,481 649.4,471 652.5,461 655.3,451 656,448.5 662.8,451 675.6,455.5 680.2,451 689.8,441 695.2,435.2 700.3,441 709.6,451 714.8,456.2 720.3,451 730.3,441 734.4,436.7 739.8,441 753.2,451 754,451.6 761.4,451 773.6,450 793.2,448.4 796.1,451 808.3,461 812.8,464.2 832.4,467.2 842.7,461 852,455.3 860.3,451 871.6,445.2 891.2,442.9 904.3,451 910.8,454.7 911.5,451 913.5,441 915.4,431 917.5,421 920.3,411 922.8,401 925,391 927,381 928.8,371 930.4,361.4 931.7,371 933.2,381 934.8,391 936.7,401 938.8,411 941.1,421 942.9,431 944.7,441 946.5,451 948.3,461 950,473 969.6,471.7 970.6,471 985.2,461 989.2,459 1008.8,460.2 1028.4,457.3 1034.4,461 1047.5,471 1048,471.4 1067.6,477.7 1087.2,474.1 1106.8,475.2 1110.3,481 1116.9,491 1124.5,501 1126.4,503 1128.7,501 1138.6,491 1146,483.1 1165.6,490.3 1185.2,481 1204.8,478.2 1220.3,471 1224.4,469.1 1226.3,471 1237.1,481 1244,486.9 1250.1,481 1260.1,471 1263.6,467.3 1269.3,471 1283.2,479.4 1302.8,480.4 1322.4,480.9 1327,481 1342,481.3 1342.4,481 1353.8,471 1361.6,463.9 1365.9,471 1372.6,481 1379.9,491 1381.2,492.7 1390.9,491 1400.8,489.2 1440,489.2 1440,616 166,616Z"/>
<path fill="#00ff07" d="M166,310.3 167.2,311 183.6,321 185.6,322.3 190,331 195.4,341 204.1,351 205.2,352.3 224.8,359.6 225.8,361 233.4,371 240.8,381 244.4,385.8 253.1,381 264,374.1 271.6,381 282.9,391 283.6,391.6 293.4,401 304.1,411 314.7,421 321.9,431 322.8,432.2 342.4,438.8 359.1,431 362,429.5 369.2,471 371,481 373.6,491 376.5,501 380,511 381.6,515 383.5,511 387.6,501 390.9,491 393.7,481 395.7,471 397.6,461 399.6,451 401.2,442.4 420.8,441.4 424.3,441 440.4,439 441.1,441 444.4,451 447.9,461 451.7,471 455.8,481 460,490.6 479.6,486.1 486.4,481 499.2,471.2 509.3,481 518.8,489.7 527.4,481 536.3,471 538.4,468.6 540.2,471 547.9,481 556.2,491 558,493 577.6,492 578.8,491 590.3,481 597.2,474.7 616.8,476.4 617.8,481 620.4,491 623.4,501 627.6,511 632.8,521 636.4,526.9 641.1,521 647.6,511 652.7,501 656,492.2 675.6,497.1 683.4,491 695.2,481.3 707.2,491 714.8,496.7 722.5,491 734.4,481.7 750.6,491 754,492.9 773.6,491.7 784.3,491 793.2,490.4 794,491 809.4,501 812.8,503 832.4,506.1 843.7,501 852,496.8 864.9,491 871.6,487.8 891.2,485.4 900,491 910.8,497.6 911.8,491 913.3,481 914.9,471 916.5,461 918.4,451 920.4,441 922.5,431 924.5,421 926.9,411 929,401 930.4,393.6 931.6,401 933.3,411 935.2,421 937,431 938.8,441 940.6,451 942.4,461 943.8,471 945.2,481 946.6,491 948,501 950,514.8 969.6,514.5 976.9,511 989.2,504.7 1008.8,504.9 1020.3,501 1028.4,498.3 1033.1,501 1048,507.9 1067.6,510.5 1087.2,505.8 1106.8,505 1111.9,511 1121.6,521 1126.4,525.2 1131.4,521 1146,508.4 1165.6,509.7 1185.2,504.8 1204.8,502.1 1208,501 1224.4,493.7 1233.2,501 1244,508.2 1253.1,501 1263.6,491 1282.2,501 1283.2,501.5 1302.8,502 1322.4,501.9 1342,501.8 1343,501 1355,491 1361.6,485.3 1365.5,491 1372.7,501 1380.8,511 1381.2,511.4 1383.6,511 1400.8,507.8 1440,507.8 1440,616 166,616ZM930.4,569.3 926.4,576 927.4,584 929.3,590 930.4,590.8 931.5,590 933.5,584 934.6,576Z"/>
<path fill="#0aff00" d="M166,344.3 181.2,351 185.6,353 192.5,361 201.1,371 205.2,375.9 216.2,381 224.8,385.3 229,391 236.4,401 243.7,411 244.4,412.1 247.2,411 264,403.9 272.2,411 283.6,420.9 283.7,421 290.4,431 297.4,441 304.7,451 312.1,461 319.7,471 322.8,474.9 338.8,481 342.4,482.4 347.2,481 362,476.4 362.8,481 364.7,491 367,501 369.8,511 373,521 376.8,531 381.6,540.6 387.9,531 392.4,521 396,511 398.8,501 401.2,490.9 420.8,491.1 422.7,491 440.4,490.1 440.7,491 444.8,501 449.6,511 454.8,521 460,529.9 479.6,530.1 491.3,521 499.2,515.8 506.7,521 518.8,528.7 529.8,521 538.4,514.6 545.8,521 558,530.7 577.6,530 592.8,521 597.2,518.2 616.8,519.2 617.5,521 622,531 628.3,541 636.4,547.2 647.6,541 655.7,531 656,530.5 658.7,531 675.6,534 681.1,531 695.2,522.2 709.3,531 714.8,534 720.4,531 734.4,522.4 753.4,531 754,531.3 759.7,531 773.6,530.3 793.2,529.4 796.1,531 812.8,539.2 825.2,541 832.4,541.6 835.9,541 852,535.8 868.8,531 871.6,530.1 891.2,529.1 894.8,531 910.8,538.4 912.2,531 913.7,521 915.3,511 916.9,501 918.5,491 920.1,481 921.7,471 923.4,461 925.3,451 927.4,441 929.5,431 930.4,426.7 931.2,431 932.9,441 934.7,451 936.5,461 937.9,471 939.4,481 940.8,491 942.2,501 943.6,511 945.1,521 946.3,531 948,541 950,546.3 969.6,546.3 989.2,543.3 1008.8,542.7 1017.5,541 1028.4,536.5 1048,540.5 1067.6,540 1087.2,534.2 1106.8,531.5 1118.6,541 1126.4,544.3 1133,541 1145.6,531 1146,530.6 1165.6,528.8 1185.2,524.5 1204.8,521.3 1205.6,521 1224.4,515.1 1233.3,521 1244,527.8 1253.7,521 1263.6,513.3 1279.6,521 1283.2,522.7 1302.8,523.5 1322.4,522.9 1342,522.3 1343.7,521 1356.3,511 1361.6,506.6 1364.9,511 1372.9,521 1381.2,530.1 1400.8,526.4 1440,526.4 1440,616 166,616ZM930.4,564.5 923.7,568 922.4,576 924.5,584 926.6,590 930.4,592.9 934.3,590 936.6,584 938.8,576 937.9,568Z"/>
<path fill="#1aff00" d="M166,366.4 175.5,371 185.6,376.2 189.7,381 198.2,391 205.2,399.4 208,401 224.7,411 224.8,411.1 231.8,421 236.1,431 240.5,441 244.4,450.3 264,442.4 270.4,451 278.2,461 283.6,467.9 285.9,471 293.3,481 301,491 309.1,501 318.7,511 322.8,515.3 336.9,521 342.4,523.3 362,521.8 364.5,531 368.2,541 377,551 381.6,555.1 388.3,551 399.9,541 401.2,537.9 420.8,537.7 440.4,536.8 442.9,541 455.6,551 460,554.2 479.6,557.1 492.5,551 499.2,548 509.4,551 518.8,553.6 527.2,551 538.4,547.3 548.2,551 558,554.6 577.6,554.4 590.3,551 597.2,549.1 616.8,549.6 618.4,551 636.4,562.3 656,555 675.6,556.8 695.2,551.4 714.8,557 734.4,551.7 754,555.7 773.6,555.2 793.2,554.8 812.8,559.5 832.4,560.7 852,557.4 871.6,554.6 891.2,554.1 910.8,557.9 913.8,551 917.7,541 919.3,531 920.4,521 922,511 923.6,501 925.2,491 926.9,481 928.5,471 930.2,461 930.4,460.2 930.5,461 932,471 933.5,481 934.9,491 936.4,501 937.8,511 939.2,521 940.2,531 941.5,541 945,551 930.4,560.1 915.4,568 921.5,584 923.9,590 937.1,590 939.6,584 943,576 947.4,568 950,563.2 969.6,563 989.2,560.1 1008.8,559.2 1028.4,555.1 1048,556.2 1067.6,555.4 1087.2,551.9 1095.5,551 1106.8,549.8 1109.7,551 1126.4,557.4 1139.4,551 1146,547.7 1165.6,545.9 1185.2,542.7 1198.9,541 1204.8,539.9 1224.4,535.2 1234.3,541 1244,545 1253.7,541 1263.6,534.7 1277.8,541 1283.2,542.8 1302.8,543.8 1322.4,542.9 1342,542.1 1344,541 1357.9,531 1361.6,528.1 1364,531 1373.5,541 1381.2,546.6 1400.8,543.7 1440,543.7 1440,616 166,616Z"/>
<path fill="#2aff00" d="M166,388.4 170.8,391 185.6,399.3 187,401 195.3,411 203.2,421 205.2,425 210.8,431 219.4,441 224.8,447.6 226.3,451 230.6,461 234.9,471 239.1,481 243.2,491 244.4,493.7 264,491.3 272.1,501 282.9,511 283.6,511.7 292.6,521 302.4,531 303.2,531.8 312.7,541 322.8,546.8 339.1,551 342.4,551.8 362,552.4 379.2,568 381.6,568.5 385.9,568 401.2,560.3 420.8,560.3 440.4,560 451.6,568 460,569.7 479.6,571.1 499.2,568.1 518.8,569.7 537.8,568 538.4,567.8 538.9,568 558,570 577.6,569.9 597.2,568.5 616.8,568.7 636.4,571.5 656,570.1 675.6,570.6 695.2,569.2 714.8,570.7 734.4,569.3 754,570.3 793.2,570.1 812.8,571.3 832.4,571.6 852,570.6 871.6,569.8 891.2,569.6 910.8,570.6 914.5,576 918.5,584 921.2,590 927.5,595 930.4,595.8 933.4,595 939.9,590 942.7,584 947.2,576 950,572.1 969.6,572.1 989.2,571.1 1008.8,570.7 1028.4,569.2 1048,569.4 1067.6,568.9 1079.9,568 1087.2,566.6 1106.8,564.1 1118.4,568 1126.4,569.1 1131.5,568 1146,561 1165.6,558.8 1185.2,555.4 1204.8,552.9 1220.4,551 1224.4,550.5 1225.7,551 1244,558.7 1263.6,551.6 1283.2,558.3 1302.8,560 1322.4,558.7 1342,557.4 1354.4,551 1361.6,547.1 1366.7,551 1381.2,560.7 1400.8,557.6 1440,557.6 1440,616 166,616ZM930.4,500 932,511 933.4,521 934,531 934.9,541 938,551 930.4,555.8 921.7,551 925.2,541 926.3,531 927,521 928.6,511Z"/>
<path fill="#3aff00" d="M166,410.5 166.9,411 182.6,421 185.6,424.1 189.1,431 194.1,441 199.1,451 203.9,461 205.2,463.6 211.1,471 218.5,481 224.8,490 225.2,491 229.6,501 235.4,511 240.9,521 244.4,527.7 264,530.3 264.7,531 275.9,541 283.6,545.4 292.9,551 303.2,556.9 322.8,567.6 324.5,568 342.4,569.3 362,569.5 381.6,573.8 401.2,571.8 420.8,571.8 440.4,571.8 460,575.7 463.7,576 479.6,577.1 488.3,576 499.2,574.3 518.8,575.8 538.4,574.3 555.5,576 558,576.2 577.6,576.1 579.8,576 597.2,574.7 616.8,574.9 626.6,576 636.4,576.8 656,576.1 675.6,576.5 684.3,576 695.2,575.2 706.3,576 714.8,576.5 723.4,576 734.4,575.2 749.4,576 754,576.2 793.2,576 812.8,577 832.4,577.2 852,576.4 864,576 871.6,575.7 891.2,575.5 901.7,576 910.8,576.4 915.5,584 918.5,590 924.5,595 930.4,596.7 936.5,595 942.7,590 945.8,584 950,577.6 969.6,577.5 989.2,576.7 1008.8,576.4 1015,576 1028.4,575 1048,575.1 1067.6,574.6 1087.2,573.2 1106.8,572.2 1126.4,574.8 1146,570.9 1165.6,569.8 1185.2,568 1185.5,568 1204.8,565.5 1224.4,564 1233.8,568 1244,570 1259.6,568 1263.6,566.8 1267.1,568 1283.2,570.5 1302.8,571.3 1322.4,570.7 1342,570.1 1351.8,568 1361.6,563 1369.3,568 1381.2,571.3 1400.8,569.8 1440,569.8 1440,616 166,616ZM929.6,551 930.4,548.6 931.1,551 930.4,551.4Z"/>
<path fill="#4aff00" d="M166,440.3 166.7,441 176.1,451 185,461 185.6,461.7 190.2,471 195.1,481 199.9,491 204.8,501 205.2,501.5 214.5,511 223.3,521 224.8,522.8 229.4,531 235,541 242.4,551 244.4,553.7 264,557.5 283.3,568 283.6,568 303.2,570.8 322.8,573.6 342.4,575.1 362,575.4 364.8,576 381.6,578.5 401.2,577.4 420.8,577.5 440.4,577.5 460,580.6 479.6,582.1 499.2,579.6 518.8,580.9 538.4,579.7 558,581.3 577.6,581.2 597.2,580.1 616.8,580.1 636.4,581.4 656,581.1 675.6,581.4 695.2,580.2 714.8,581.3 734.4,580.2 754,581 793.2,580.8 812.8,581.7 832.4,581.9 852,581.2 871.6,580.6 891.2,580.4 910.8,581.1 912.6,584 915.8,590 921.6,595 930.4,597.5 939.5,595 945.4,590 948.9,584 950,582.3 969.6,582.2 989.2,581.5 1008.8,581.1 1028.4,580 1048,580 1067.6,579.6 1087.2,578.5 1106.8,577.7 1126.4,579.8 1146,576.7 1164.1,576 1165.6,575.9 1185.2,574.3 1204.8,573.2 1224.4,572.6 1241.5,576 1244,576.4 1248.1,576 1263.6,574.1 1276.1,576 1283.2,576.9 1302.8,577.6 1322.4,577.2 1342,576.8 1346.6,576 1361.6,572.9 1373,576 1381.2,577.8 1400.8,576.7 1440,576.7 1440,616 166,616Z"/>
<path fill="#59ff00" d="M166,476 170.4,481 178.9,491 185.6,498.8 186.7,501 193.8,511 200.5,521 205.2,528.2 207.7,531 216.3,541 224.8,549 226.3,551 238.9,568 244.4,570.1 264,571.2 283.6,573.8 298.9,576 303.2,576.5 322.8,578.7 342.4,579.9 362,580.3 381.6,582.9 401.2,582.3 420.8,582.4 440.4,582.5 450.2,584 460,585.5 479.6,587.1 499.2,584.7 518.8,585.9 538.4,584.9 558,586.4 577.6,586.2 597.2,585.1 616.8,585.1 636.4,586.1 656,586 675.6,586.2 695.2,585.1 714.8,586.1 734.4,585 754,585.8 793.2,585.6 812.8,586.4 832.4,586.6 852,586 871.6,585.4 891.2,585.2 910.8,585.9 913.1,590 918.6,595 930.4,598.3 942.6,595 948.2,590 950,587 969.6,586.9 989.2,586.2 1008.8,585.9 1028.4,584.8 1048,584.8 1067.6,584.4 1074.2,584 1087.2,583.2 1106.8,582.5 1120.3,584 1126.4,584.7 1131.1,584 1146,581.8 1165.6,581.2 1185.2,580 1204.8,579.1 1224.4,578.7 1244,581.9 1263.6,580 1283.2,582.4 1302.8,583.1 1322.4,582.8 1342,582.5 1361.6,579.3 1381.2,583.7 1400.8,582.7 1440,582.7 1440,616 166,616Z"/>
<path fill="#69ff00" d="M166,507.6 170.2,511 181.8,521 185.6,524.4 190,531 196.8,541 205.2,550.7 205.5,551 222.9,568 224.8,568.6 244.4,575.9 246.3,576 264,576.8 283.6,578.9 303.2,581.1 322.8,583.4 332.9,584 342.4,584.6 362,585.1 381.6,587.4 401.2,587.1 420.8,587.3 440.4,587.5 457.8,590 460,590.2 479.6,591.2 496.7,590 499.2,589.7 504.1,590 518.8,590.5 538.4,590 558,590.8 577.6,590.7 597.2,590.1 616.8,590.1 636.4,590.6 656,590.5 675.6,590.6 695.2,590 714.8,590.5 732,590 734.4,589.9 738,590 754,590.3 793.2,590.2 812.8,590.7 832.4,590.8 852,590.4 871.6,590.1 891.2,590 910.8,590.4 915.7,595 930.4,599.2 945.6,595 950,591 969.6,591 989.2,590.6 1008.8,590.4 1020.7,590 1028.4,589.6 1048,589.6 1067.6,589.1 1087.2,588 1106.8,587.4 1126.4,589.4 1146,586.9 1165.6,586.4 1185.2,585.4 1204.8,584.7 1224.4,584.3 1244,587.3 1263.6,585.6 1283.2,587.9 1302.8,588.6 1322.4,588.4 1342,588.2 1361.6,585.4 1381.2,589.5 1400.8,588.7 1440,588.7 1440,616 166,616Z"/>
<path fill="#79ff00" d="M177.3,541 185.6,547 189.2,551 203.6,568 205.2,568.7 224.8,574.9 227.8,576 244.4,580.6 264,581.5 283.6,583.6 303.2,585.8 322.8,588 342.4,589.3 362,589.8 363.4,590 381.6,591.3 401.2,591.2 420.8,591.3 440.4,591.4 460,592.9 479.6,593.9 499.2,592.6 518.8,593.3 538.4,592.8 558,593.6 577.6,593.5 597.2,592.9 616.8,592.9 636.4,593.4 656,593.3 675.6,593.4 695.2,592.8 714.8,593.3 734.4,592.7 754,593.1 793.2,593 812.8,593.5 832.4,593.6 852,593.2 871.6,592.9 891.2,592.8 910.8,593.2 912.7,595 948.6,595 950,593.8 969.6,593.7 989.2,593.4 1008.8,593.1 1028.4,592.4 1048,592.3 1067.6,592 1087.2,591.4 1106.8,591.1 1126.4,592.1 1146,590.9 1165.6,590.7 1185.2,590.3 1204.8,590.1 1222.5,590 1224.4,590 1224.6,590 1244,591.3 1263.6,590.6 1283.2,591.7 1302.8,592.1 1322.4,592.1 1342,592 1361.6,590.7 1381.2,592.9 1400.8,592.6 1440,592.6 1440,616 166,616Z"/>
<path fill="#89ff00" d="M166,550.6 166.5,551 185.6,565.3 187.9,568 205.2,575.5 206.9,576 224.8,580.2 239.2,584 244.4,585.3 264,586.1 283.6,588.2 299.4,590 303.2,590.3 322.8,591.7 342.4,592.5 362,592.8 381.6,594.1 401.2,594 420.8,594.1 440.4,594.2 450.9,595 460,595.7 479.6,596.7 499.2,595.4 518.8,596 538.4,595.6 558,596.3 577.6,596.2 597.2,595.7 616.8,595.7 636.4,596.1 656,596.1 675.6,596.2 695.2,595.6 714.8,596.1 734.4,595.5 754,595.9 793.2,595.8 812.8,596.2 832.4,596.3 852,596 871.6,595.7 891.2,595.6 910.8,596 922.4,600 930.4,600.6 939.1,600 950,596.5 969.6,596.5 989.2,596.1 1008.8,595.9 1028.4,595.1 1037.5,595 1048,594.9 1067.6,594.5 1087.2,593.9 1106.8,593.5 1126.4,594.4 1146,593.3 1165.6,593.1 1185.2,592.7 1204.8,592.5 1224.4,592.5 1244,593.8 1263.6,593.2 1283.2,594.4 1302.8,594.9 1322.4,594.9 1342,595 1342.4,595 1361.6,593.9 1371.8,595 1381.2,596 1400.8,595.9 1440,595.9 1440,616 166,616Z"/>
<path fill="#99ff00" d="M166.1,568 185.6,574.3 189.5,576 205.2,581.1 218.2,584 224.8,585.3 244.4,589.9 246.1,590 264,590.6 283.6,592 303.2,593.4 322.8,594.7 330.8,595 342.4,595.4 362,595.7 381.6,596.9 401.2,596.8 420.8,596.9 440.4,597 460,598.4 479.6,599.5 499.2,598.2 518.8,598.8 538.4,598.4 558,599.1 577.6,599 597.2,598.5 616.8,598.5 636.4,598.9 656,598.8 675.6,598.9 695.2,598.4 714.8,598.8 734.4,598.3 754,598.7 793.2,598.6 812.8,599 832.4,599.1 852,598.8 871.6,598.5 891.2,598.4 910.8,598.8 914.4,600 930.4,601.1 947.7,600 950,599.3 969.6,599.2 989.2,598.9 1008.8,598.6 1028.4,597.7 1048,597.5 1067.6,597 1087.2,596.3 1106.8,595.9 1126.4,596.8 1146,595.7 1165.6,595.5 1185.2,595.1 1204.8,594.9 1224.4,595 1244,596.3 1263.6,595.9 1283.2,597 1302.8,596 1322.4,597.8 1342,598 1361.6,597 1381.2,599.2 1400.8,599.2 1440,599.2 1440,616 166,616Z"/>
<path fill="#a9ff00" d="M166.1,576 185.6,580.8 195.6,584 205.2,586.7 222.1,590 224.8,590.3 244.4,593.1 264,593.9 280.7,595 283.6,595.2 303.2,596.5 322.8,597.7 342.4,598.4 362,598.6 381.6,599.7 401.2,599.6 420.8,599.7 440.4,599.8 442.9,600 460,600.7 479.6,601.4 499.2,600.6 518.8,600.9 538.4,600.7 558,601.1 577.6,601.1 597.2,600.8 616.8,600.8 636.4,601 656,601 675.6,601 695.2,600.7 714.8,601 734.4,600.7 754,600.9 793.2,600.8 812.8,601.1 832.4,601.1 852,600.9 871.6,600.8 891.2,600.7 910.8,600.9 930.4,601.7 950,601.2 969.6,601.2 989.2,601 1008.8,600.8 1028.4,600.3 1048,600 1049.8,600 1067.6,599.5 1087.2,598.7 1106.8,598.3 1126.4,599.1 1146,598 1165.6,597.8 1185.2,597.5 1204.8,597.3 1224.4,597.4 1244,598.8 1263.6,598.5 1283.2,599.7 1302.8,597 1321,600 1322.4,600.4 1342,600.6 1361.6,600.1 1381.2,601.7 1400.8,601.9 1440,601.9 1440,616 166,616Z"/>
<path fill="#b9ff00" d="M166,582.8 171.3,584 185.6,587.1 196,590 205.2,591 224.8,593.1 236.9,595 244.4,596.3 264,597.2 283.6,598.4 303.2,599.6 310.2,600 322.8,600.4 342.4,600.8 362,600.9 381.6,601.5 401.2,601.4 420.8,601.5 440.4,601.6 460,602.4 479.6,603 499.2,602.3 518.8,602.6 538.4,602.4 558,602.8 577.6,602.7 597.2,602.5 616.8,602.4 636.4,602.7 656,602.6 675.6,602.7 695.2,602.4 714.8,602.6 734.4,602.4 754,602.6 793.2,602.5 812.8,602.7 832.4,602.8 852,602.6 871.6,602.4 891.2,602.4 910.8,602.6 930.4,602.2 950,602.9 969.6,602.9 989.2,602.7 1008.8,602.5 1028.4,601.9 1048,601.7 1067.6,601.3 1087.2,600.8 1106.8,600.5 1126.4,601 1146,600.3 1165.6,600.2 1177,600 1185.2,599.8 1204.8,599.7 1224.4,599.9 1225.6,600 1244,600.9 1263.6,600.7 1283.2,601.5 1289.3,600 1302.8,598 1314.9,600 1322.4,602.2 1342,602.6 1361.6,602.2 1381.2,604 1383.5,604 1400.8,604.4 1440,604.4 1440,616 166,616Z"/>
<path fill="#c9ff00" d="M166,592.2 185.6,591.2 205.2,593.5 217.8,595 224.8,595.9 244.4,599.5 253.8,600 264,600.3 283.6,601 303.2,601.6 322.8,602.2 342.4,602.5 362,602.6 381.6,603.2 401.2,603.1 420.8,603.2 440.4,603.3 459.1,604 460,604 479.6,604.8 497.1,604 499.2,603.9 503.6,604 518.8,604.3 538.4,604.1 558,604.5 577.6,604.5 597.2,604.2 616.8,604.1 636.4,604.4 656,604.4 675.6,604.4 695.2,604.1 714.8,604.4 734.4,604 754,604.3 793.2,604.2 812.8,604.5 832.4,604.5 852,604.3 871.6,604.1 891.2,604.1 910.8,604.3 912.1,604 930.4,602.8 947.5,604 950,604.7 969.6,604.6 989.2,604.4 1008.8,604.2 1014.2,604 1028.4,603.6 1048,603.4 1067.6,603 1087.2,602.5 1106.8,602.1 1126.4,602.7 1146,602 1165.6,601.8 1185.2,601.6 1204.8,601.4 1224.4,601.6 1244,602.5 1263.6,602.4 1283.2,603.2 1296,600 1302.8,599 1308.9,600 1322.4,604 1322.4,604 1342,604.6 1361.6,604.4 1381.2,606.6 1400.8,607.2 1440,607.2 1440,616 166,616Z"/>
<path fill="#d9ff00" d="M185.6,593.5 197.7,595 205.2,596 224.8,598.7 231.5,600 244.4,601.7 264,602.3 283.6,602.9 303.2,603.5 321.3,604 322.8,604.1 342.4,604.4 362,604.2 381.6,605.1 401.2,605 420.8,605.1 440.4,605.2 460,606.1 479.6,606.8 499.2,605.9 518.8,606.3 538.4,606.1 558,606.5 577.6,606.5 597.2,606.2 616.8,606.2 636.4,606.4 656,606.4 675.6,606.4 695.2,606.1 714.8,606.4 734.4,606.1 754,606.3 793.2,606.2 812.8,606.5 832.4,606.5 852,606.3 871.6,606.2 891.2,606.1 910.8,606.3 920.4,604 930.4,603.3 939.7,604 950,606.6 969.6,606.6 989.2,606.4 1008.8,606.2 1028.4,605.6 1048,605.3 1067.6,604.8 1087.2,604.1 1095.3,604 1106.8,603.8 1114.4,604 1126.4,604.2 1135.4,604 1146,603.6 1165.6,603.5 1185.2,603.2 1204.8,603.1 1224.4,603.3 1239.6,604 1244,604.3 1263.6,604.1 1283.2,604.4 1285,604 1302.8,600 1319,604 1322.4,604.7 1342,607 1361.6,607 1370.6,608 1381.2,609.5 1400.8,610.4 1440,610.4 1440,616 166,616Z"/>
<path fill="#e9ff00" d="M166,596 185.6,595.7 205.2,598.6 215.2,600 224.8,601.2 244.4,603.8 253.5,604 264,604.3 283.6,605 303.2,604.7 322.8,606.3 342.4,606.6 362,605.1 381.6,607.2 401.2,607.1 420.8,607.2 440.4,607.2 457,608 460,608.2 479.6,609 498.7,608 499.2,608 500.4,608 518.8,608.5 538.4,608.1 558,608.7 577.6,608.6 597.2,608.2 616.8,608.2 636.4,608.5 656,608.5 675.6,608.5 695.2,608.1 714.8,608.5 734.4,608.1 754,608.3 793.2,608.3 812.8,608.6 832.4,608.7 852,608.4 871.6,608.2 891.2,608.1 910.8,608.4 911.3,608 928.7,604 930.4,603.9 932,604 949,608 950,608.8 969.6,608.8 989.2,608.5 1008.8,608.3 1015.3,608 1028.4,607.6 1048,607.3 1067.6,606.9 1087.2,605 1106.8,604.9 1126.4,605.1 1146,604.8 1165.6,604.7 1185.2,605.2 1204.8,605 1224.4,605.3 1244,606.4 1263.6,606.2 1283.2,605.1 1288.7,604 1302.8,600.8 1315.6,604 1322.4,605.4 1339.5,608 1342,609.7 1361.6,609.9 1376.4,612 1381.2,613.4 1400.8,615.4 1440,615.4 1440,616 166,616Z"/>
<path fill="#f9ff00" d="M166,597.1 185.6,598 198.8,600 205.2,601 224.8,603.3 229.9,604 244.4,606.2 264,606.8 283.6,607.4 303.2,605.8 320.7,608 322.8,608.8 342.4,609.1 345.2,608 362,606 377.2,608 381.6,609.8 401.2,609.6 420.8,609.7 440.4,609.8 460,610.8 479.6,611.6 499.2,610.6 518.8,611 538.4,610.7 558,611.1 577.6,611.1 597.2,610.7 616.8,610.7 636.4,611 656,611 675.6,611 695.2,610.7 714.8,611 734.4,610.6 754,610.9 793.2,610.8 812.8,611.1 832.4,611.2 852,610.9 871.6,610.7 891.2,610.7 910.8,610.9 914.4,608 930.4,604.5 946,608 950,611.3 969.6,611.3 989.2,611 1008.8,610.8 1028.4,610.1 1048,609.8 1067.6,609.3 1071.1,608 1087.2,605.9 1106.8,605.8 1126.4,606 1146,605.8 1165.6,605.7 1185.2,607.4 1204.8,607.3 1224.4,607.5 1233.8,608 1244,608.8 1263.6,608.6 1264.8,608 1283.2,605.9 1292.4,604 1302.8,601.7 1312.2,604 1322.4,606.1 1335,608 1340.9,612 1342,613.6 1361.6,614.4 1367.1,616 166,616ZM185.6,602.1 183,604 185.6,605.3 192.9,604Z"/>
<path fill="#fff400" d="M166,598.1 184.4,600 179.7,604 185.6,607 202,604 205.2,603.2 211.8,604 224.8,605.7 240.1,608 244.4,608.9 264,609.7 283.6,610.4 291.1,608 303.2,606.8 312.8,608 322.8,611.8 334.6,612 342.4,612.2 342.6,612 352.8,608 362,606.9 370.3,608 380,612 381.6,613.6 401.2,613.1 420.8,613.3 440.4,613.3 460,615.7 463.4,616 166,616ZM1296.1,604 1302.8,602.5 1308.9,604 1322.4,606.8 1330.5,608 1336.3,612 1339.1,616 990.2,616 1008.8,615.4 1028.4,613.8 1048,613.1 1067.6,612 1067.7,612 1078.4,608 1087.2,606.9 1106.8,606.8 1126.4,606.9 1146,606.8 1165.6,606.8 1177.9,608 1185.2,610.3 1204.8,610.2 1224.4,610.4 1244,611.9 1263.6,611.6 1271.4,608 1283.2,606.6ZM917.5,608 930.4,605.2 943,608 947.9,612 949.7,616 845.2,616 852,615.8 871.6,615.3 891.2,615.2 910.8,615.8 912.5,612ZM491.6,616 499.2,615.1 518.3,616ZM519.4,616 538.4,615.2 551.8,616ZM582.5,616 597.2,615.3 616.8,615.3 635.5,616ZM641.8,616 656,615.9 665.5,616ZM677.6,616 695.2,615.2 714.8,615.9 734.4,615.1 754,615.6 793.2,615.5 806.8,616Z"/>
<path fill="#ffe300" d="M166,599.2 174.2,600 176.5,604 184,608 185.6,609.1 191,608 205.2,605.5 224.2,608 224.8,608.1 244.2,612 244.4,612.1 264,614.1 283.6,615.5 287.6,612 301.2,608 303.2,607.8 304.8,608 316.5,612 320.5,616 166,616ZM1299.8,604 1302.8,603.3 1305.5,604 1322.4,607.4 1326,608 1331.6,612 1334.4,616 1264.8,616 1269.5,612 1277.9,608 1283.2,607.4ZM360.5,608 362,607.8 363.4,608 373.3,612 377.3,616 345.5,616 349.8,612ZM920.5,608 930.4,605.9 940,608 945,612 946.8,616 913.7,616 915.5,612ZM1085.7,608 1087.2,607.8 1106.8,607.8 1126.4,607.8 1146,607.8 1165.6,607.8 1167.6,608 1180.2,612 1185.2,614.2 1204.8,614 1224.4,614.5 1236.7,616 1070.9,616 1075.8,612Z"/>
<path fill="#ffd100" d="M166,600.3 173.2,604 179.9,608 185.6,611.7 204.5,608 205.2,607.9 206.2,608 224.8,610.9 230.4,612 238.6,616 166,616ZM923.6,608 930.4,606.5 937,608 942.1,612 943.9,616 916.7,616 918.5,612ZM1284.5,608 1302.8,604.3 1321.1,608 1322.4,608.7 1327,612 1329.8,616 1271.9,616 1276.4,612 1283.2,608.7ZM295.4,612 303.2,609.8 309.8,612 313.9,616 290.8,616ZM357,612 362,610.1 366.7,612 370.7,616 352.7,616ZM1083.9,612 1087.2,610.7 1165.6,610.7 1169.8,612 1177.7,616 1079.1,616Z"/>
<path fill="#ffbf00" d="M166,602 169.9,604 175.8,608 181.1,612 185.6,616 166,616ZM926.7,608 930.4,607.2 934,608 939.2,612 940.9,616 919.7,616 921.4,612ZM1291,608 1302.8,605.6 1314.6,608 1325.2,616 1279,616ZM196.7,612 205.2,610.3 215.8,612 185.6,616ZM298.5,616 303.2,612 307.2,616ZM359.8,616 362,614 364,616Z"/>
<path fill="#ffae00" d="M166,603.7 166.7,604 171.7,608 176.1,612 180.2,616 166,616ZM929.8,608 930.4,607.9 931,608 936.2,612 938,616 922.6,616 924.4,612ZM1297.6,608 1302.8,606.9 1308,608 1315.9,612 1319.8,616 1285.8,616 1289.7,612ZM200.8,616 205.2,614.1 209.6,616Z"/>
<path fill="#ff9c00" d="M166,606.7 167.6,608 171,612 174.7,616 166,616ZM927.4,612 930.4,609.8 933.3,612 935.1,616 925.6,616ZM1296.3,612 1302.8,608.7 1309.3,612 1313.3,616 1292.3,616Z"/>
<path fill="#ff8a00" d="M166,616 166,612 169.3,616ZM928.6,616 930.4,612 932.2,616ZM1298.9,616 1302.8,612 1306.7,616Z"/>
</g>
<g shape-rendering="crispEdges" stroke="#000" stroke-width="1" fill="none">
<path d="M156.0 41.5H1454.0M156.5 41.5V617.0M1453.5 41.5V617.0"/>
<path d="M156.0 616.5H760M793 616.5H1406M1440 616.5H1454.0"/>
<path d="M192.5 41.5v15M192.5 617.0v-15M228.5 41.5v15M228.5 617.0v-15M264.5 41.5v15M264.5 617.0v-15M300.5 41.5v15M300.5 617.0v-15M336.5 41.5v15M336.5 617.0v-15M372.5 41.5v29M372.5 617.0v-29M408.5 41.5v15M408.5 617.0v-15M444.5 41.5v15M444.5 617.0v-15M480.5 41.5v15M480.5 617.0v-15M516.5 41.5v15M516.5 617.0v-15M552.5 41.5v15M552.5 617.0v-15M588.5 41.5v29M588.5 617.0v-29M624.5 41.5v15M624.5 617.0v-15M660.5 41.5v15M660.5 617.0v-15M696.5 41.5v15M696.5 617.0v-15M732.5 41.5v15M732.5 617.0v-15M768.5 41.5v15M805.5 41.5v29M805.5 617.0v-29M841.5 41.5v15M841.5 617.0v-15M877.5 41.5v15M877.5 617.0v-15M913.5 41.5v15M913.5 617.0v-15M949.5 41.5v15M949.5 617.0v-15M985.5 41.5v15M985.5 617.0v-15M1021.5 41.5v29M1021.5 617.0v-29M1057.5 41.5v15M1057.5 617.0v-15M1093.5 41.5v15M1093.5 617.0v-15M1129.5 41.5v15M1129.5 617.0v-15M1165.5 41.5v15M1165.5 617.0v-15M1201.5 41.5v15M1201.5 617.0v-15M1237.5 41.5v29M1237.5 617.0v-29M1273.5 41.5v15M1273.5 617.0v-15M1309.5 41.5v15M1309.5 617.0v-15M1345.5 41.5v15M1345.5 617.0v-15M1381.5 41.5v15M1381.5 617.0v-15M1417.5 41.5v15M156.0 587.5h14M1454.0 587.5h-14M156.0 558.5h14M1454.0 558.5h-14M156.0 529.5h14M1454.0 529.5h-14M156.0 501.5h14M1454.0 501.5h-14M156.0 472.5h27M1454.0 472.5h-27M156.0 443.5h14M1454.0 443.5h-14M156.0 414.5h14M1454.0 414.5h-14M156.0 386.5h14M1454.0 386.5h-14M156.0 357.5h14M1454.0 357.5h-14M156.0 328.5h27M1454.0 328.5h-27M156.0 299.5h14M1454.0 299.5h-14M156.0 271.5h14M1454.0 271.5h-14M156.0 242.5h14M1454.0 242.5h-14M156.0 213.5h14M1454.0 213.5h-14M156.0 184.5h27M1454.0 184.5h-27M156.0 156.5h14M1454.0 156.5h-14M156.0 127.5h14M1454.0 127.5h-14M156.0 98.5h14M1454.0 98.5h-14M156.0 69.5h14M1454.0 69.5h-14"/>
</g>
<g shape-rendering="crispEdges">
<rect x="760.5" y="42.0" width="32.0" height="9.5" fill="#007dff"/>
<rect x="760.5" y="51.5" width="32.0" height="14.5" fill="#008eff"/>
<rect x="760.5" y="66.0" width="32.0" height="20.0" fill="#009eff"/>
<rect x="760.5" y="86.0" width="32.0" height="10.5" fill="#00aeff"/>
<rect x="760.5" y="96.5" width="32.0" height="8.5" fill="#00bfff"/>
<rect x="760.5" y="105.0" width="32.0" height="8.5" fill="#00cfff"/>
<rect x="760.5" y="113.5" width="32.0" height="20.5" fill="#00dfff"/>
<rect x="760.5" y="134.0" width="32.0" height="12.0" fill="#00f0ff"/>
<rect x="760.5" y="146.0" width="32.0" height="12.5" fill="#00fffe"/>
<rect x="760.5" y="158.5" width="32.0" height="14.0" fill="#00ffeb"/>
<rect x="760.5" y="172.5" width="32.0" height="13.5" fill="#00ffd8"/>
<rect x="760.5" y="186.0" width="32.0" height="12.5" fill="#00ffc5"/>
<rect x="760.5" y="198.5" width="32.0" height="13.0" fill="#00ffb2"/>
<rect x="760.5" y="211.5" width="32.0" height="6.5" fill="#00ff9f"/>
<rect x="760.5" y="218.0" width="32.0" height="7.0" fill="#00ff8c"/>
<rect x="760.5" y="225.0" width="32.0" height="6.5" fill="#00ff79"/>
<rect x="760.5" y="231.5" width="32.0" height="7.5" fill="#00ff66"/>
<rect x="760.5" y="239.0" width="32.0" height="7.5" fill="#00ff53"/>
<rect x="760.5" y="246.5" width="32.0" height="11.0" fill="#00ff40"/>
<rect x="760.5" y="257.5" width="32.0" height="45.0" fill="#00ff2d"/>
<rect x="760.5" y="302.5" width="32.0" height="20.0" fill="#00ff40"/>
<rect x="760.5" y="322.5" width="32.0" height="23.0" fill="#00ff53"/>
<rect x="760.5" y="345.5" width="32.0" height="19.0" fill="#00ff66"/>
<rect x="760.5" y="364.5" width="32.0" height="9.0" fill="#00ff79"/>
<rect x="760.5" y="373.5" width="32.0" height="6.0" fill="#00ff8c"/>
<rect x="760.5" y="379.5" width="32.0" height="25.0" fill="#00ff9f"/>
<rect x="760.5" y="404.5" width="32.0" height="10.5" fill="#00ff8c"/>
<rect x="760.5" y="415.0" width="32.0" height="13.5" fill="#00ff79"/>
<rect x="760.5" y="428.5" width="32.0" height="16.5" fill="#00ff66"/>
<rect x="760.5" y="445.0" width="32.0" height="21.0" fill="#00ff53"/>
<rect x="760.5" y="466.0" width="32.0" height="101.0" fill="#00ff40"/>
<rect x="760.5" y="567.0" width="32.0" height="33.0" fill="#00ff2d"/>
<rect x="760.5" y="600.0" width="32.0" height="14.5" fill="#00ff1a"/>
<rect x="760.5" y="614.5" width="32.0" height="2.5" fill="#00ff07"/>
<rect x="1406.5" y="42.0" width="33.0" height="1.5" fill="#4300d9"/>
<rect x="1406.5" y="43.5" width="33.0" height="11.5" fill="#3500e9"/>
<rect x="1406.5" y="55.0" width="33.0" height="10.5" fill="#2700f6"/>
<rect x="1406.5" y="65.5" width="33.0" height="9.0" fill="#1600fa"/>
<rect x="1406.5" y="74.5" width="33.0" height="16.5" fill="#0600fe"/>
<rect x="1406.5" y="91.0" width="33.0" height="13.0" fill="#000bff"/>
<rect x="1406.5" y="104.0" width="33.0" height="13.5" fill="#001bff"/>
<rect x="1406.5" y="117.5" width="33.0" height="10.5" fill="#002bff"/>
<rect x="1406.5" y="128.0" width="33.0" height="11.0" fill="#003cff"/>
<rect x="1406.5" y="139.0" width="33.0" height="11.5" fill="#004cff"/>
<rect x="1406.5" y="150.5" width="33.0" height="13.5" fill="#005dff"/>
<rect x="1406.5" y="164.0" width="33.0" height="14.0" fill="#006dff"/>
<rect x="1406.5" y="178.0" width="33.0" height="25.5" fill="#007dff"/>
<rect x="1406.5" y="203.5" width="33.0" height="29.5" fill="#006dff"/>
<rect x="1406.5" y="233.0" width="33.0" height="11.5" fill="#007dff"/>
<rect x="1406.5" y="244.5" width="33.0" height="8.5" fill="#008eff"/>
<rect x="1406.5" y="253.0" width="33.0" height="10.0" fill="#009eff"/>
<rect x="1406.5" y="263.0" width="33.0" height="10.5" fill="#00aeff"/>
<rect x="1406.5" y="273.5" width="33.0" height="10.5" fill="#00bfff"/>
<rect x="1406.5" y="284.0" width="33.0" height="8.0" fill="#00cfff"/>
<rect x="1406.5" y="292.0" width="33.0" height="8.5" fill="#00dfff"/>
<rect x="1406.5" y="300.5" width="33.0" height="9.5" fill="#00f0ff"/>
<rect x="1406.5" y="310.0" width="33.0" height="33.5" fill="#00fffe"/>
<rect x="1406.5" y="343.5" width="33.0" height="16.5" fill="#00ffeb"/>
<rect x="1406.5" y="360.0" width="33.0" height="11.5" fill="#00ffd8"/>
<rect x="1406.5" y="371.5" width="33.0" height="12.0" fill="#00ffc5"/>
<rect x="1406.5" y="383.5" width="33.0" height="12.0" fill="#00ffb2"/>
<rect x="1406.5" y="395.5" width="33.0" height="11.0" fill="#00ff9f"/>
<rect x="1406.5" y="406.5" width="33.0" height="10.5" fill="#00ff8c"/>
<rect x="1406.5" y="417.0" width="33.0" height="10.5" fill="#00ff79"/>
<rect x="1406.5" y="427.5" width="33.0" height="10.0" fill="#00ff66"/>
<rect x="1406.5" y="437.5" width="33.0" height="10.5" fill="#00ff53"/>
<rect x="1406.5" y="448.0" width="33.0" height="10.5" fill="#00ff40"/>
<rect x="1406.5" y="458.5" width="33.0" height="10.5" fill="#00ff2d"/>
<rect x="1406.5" y="469.0" width="33.0" height="10.5" fill="#00ff1a"/>
<rect x="1406.5" y="479.5" width="33.0" height="10.5" fill="#00ff07"/>
<rect x="1406.5" y="490.0" width="33.0" height="10.0" fill="#0aff00"/>
<rect x="1406.5" y="500.0" width="33.0" height="17.0" fill="#1aff00"/>
<rect x="1406.5" y="517.0" width="33.0" height="16.5" fill="#2aff00"/>
<rect x="1406.5" y="533.5" width="33.0" height="16.5" fill="#3aff00"/>
<rect x="1406.5" y="550.0" width="33.0" height="21.0" fill="#4aff00"/>
<rect x="1406.5" y="571.0" width="33.0" height="21.0" fill="#59ff00"/>
<rect x="1406.5" y="592.0" width="33.0" height="25.0" fill="#69ff00"/>
<rect x="1406.5" y="617.0" width="33.0" height="0.0" fill="#79ff00"/>
</g>
<g shape-rendering="crispEdges" stroke="#000" stroke-width="1" fill="none">
<path d="M760.5 41V617M792.5 41V617M1406.5 41V617M1439.5 41V617"/>
<rect x="1312" y="58" width="39" height="342" fill="url(#cb)" stroke="none"/>
<rect x="1313.5" y="58.5" width="37" height="341"/>
<path d="M1313.5 126.5h5M1350.5 126.5h-5M1313.5 194.5h5M1350.5 194.5h-5M1313.5 263.5h5M1350.5 263.5h-5M1313.5 331.5h5M1350.5 331.5h-5"/>
</g>
<g>
<text class="t" y="30.2"><tspan x="265.0" textLength="76.0" lengthAdjust="spacing">June</tspan> <tspan x="358.0" textLength="39.0" lengthAdjust="spacing">22</tspan> <tspan x="414.0" textLength="80.0" lengthAdjust="spacing">2012</tspan> <tspan x="513.0" textLength="72.0" lengthAdjust="spacing">MWR</tspan> <tspan x="602.7" textLength="194.3" lengthAdjust="spacing">Temperature</tspan> <tspan x="816.8" textLength="118.2" lengthAdjust="spacing">Profiles</tspan> <tspan x="953.0" textLength="32.0" lengthAdjust="spacing">(||</tspan> <tspan x="1001.6" textLength="50.4" lengthAdjust="spacing">are</tspan> <tspan x="1070.6" textLength="140.4" lengthAdjust="spacing">sounding</tspan> <tspan x="1229.0" textLength="126.0" lengthAdjust="spacing">profiles)</tspan></text>
<text x="147.0" y="56.8" class="a" text-anchor="end">2.0</text>
<text x="147.0" y="193.8" class="a" text-anchor="end">1.5</text>
<text x="147.0" y="337.5" class="a" text-anchor="end">1.0</text>
<text x="147.0" y="481.3" class="a" text-anchor="end">0.5</text>
<text x="147.0" y="618.0" class="a" text-anchor="end">0.0</text>
<text x="156.0" y="648.6" class="a" text-anchor="middle">0</text>
<text x="372.2" y="648.6" class="a" text-anchor="middle">4</text>
<text x="588.3" y="648.6" class="a" text-anchor="middle">8</text>
<text x="804.5" y="648.6" class="a" text-anchor="middle">12</text>
<text x="1020.7" y="648.6" class="a" text-anchor="middle">16</text>
<text x="1236.8" y="648.6" class="a" text-anchor="middle">20</text>
<text x="1453.0" y="648.6" class="a" text-anchor="middle">24</text>
<text x="733.0" y="675.5" class="a" textLength="142.0" lengthAdjust="spacing">UTC [hour]</text>
<text class="a" transform="translate(84.5 406.5) rotate(-90)" textLength="151" lengthAdjust="spacing">Height [km]</text>
<text x="103.0" y="693.0" class="i" textLength="200.0" lengthAdjust="spacing">ICECAPS</text>
<text class="s" y="693"><tspan x="1050.0" textLength="73.7" lengthAdjust="spacing" y="693">SSEC</tspan> <tspan x="1139.0" textLength="29.0" lengthAdjust="spacingAndGlyphs" dy="-1.5">-</tspan> <tspan x="1181.5" textLength="70.0" lengthAdjust="spacing" y="693">Univ</tspan> <tspan x="1258.5" textLength="24.5" lengthAdjust="spacing" y="693">of</tspan> <tspan x="1302.0" textLength="61.5" lengthAdjust="spacing" y="693">Wisc</tspan></text>
<text class="a" y="73.3" text-anchor="end"><tspan x="1247.5" dy="-1.6" textLength="22" lengthAdjust="spacingAndGlyphs">-</tspan><tspan x="1302.5" y="73.3">4.50</tspan></text>
<text class="a" y="135.7" text-anchor="end"><tspan x="1247.5" dy="-1.6" textLength="22" lengthAdjust="spacingAndGlyphs">-</tspan><tspan x="1302.5" y="135.7">8.10</tspan></text>
<text class="a" y="203.9" text-anchor="end"><tspan x="1232.0" dy="-1.6" textLength="22" lengthAdjust="spacingAndGlyphs">-</tspan><tspan x="1302.5" y="203.9">11.70</tspan></text>
<text class="a" y="272.0" text-anchor="end"><tspan x="1232.0" dy="-1.6" textLength="22" lengthAdjust="spacingAndGlyphs">-</tspan><tspan x="1302.5" y="272.0">15.30</tspan></text>
<text class="a" y="340.2" text-anchor="end"><tspan x="1232.0" dy="-1.6" textLength="22" lengthAdjust="spacingAndGlyphs">-</tspan><tspan x="1302.5" y="340.2">18.90</tspan></text>
<text class="a" y="400.0" text-anchor="end"><tspan x="1232.0" dy="-1.6" textLength="22" lengthAdjust="spacingAndGlyphs">-</tspan><tspan x="1302.5" y="400.0">22.50</tspan></text>
<text class="a" transform="translate(1385 273) rotate(-90)" textLength="87" lengthAdjust="spacing">Celcius</text>
</g>
</svg>
</body></html>
